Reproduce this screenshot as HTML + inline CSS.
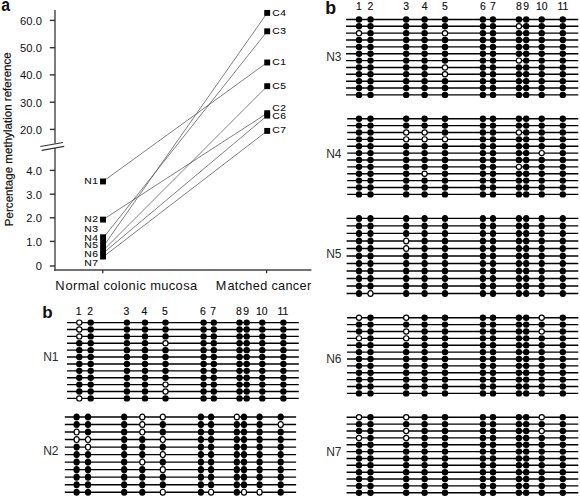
<!DOCTYPE html>
<html><head><meta charset="utf-8"><title>Figure</title>
<style>
html,body{margin:0;padding:0;background:#fff;}
body{width:580px;height:498px;overflow:hidden;}
svg{display:block;}
text{font-family:"Liberation Sans", sans-serif;fill:#111;}
text.g{fill:#2b2b2b;}
text.d{fill:#111;stroke:#111;stroke-width:0.15px;}
text.lab{letter-spacing:0.55px;stroke:#111;stroke-width:0.12px;}
</style></head>
<body>
<svg width="580" height="498" viewBox="0 0 580 498">
<rect x="0" y="0" width="580" height="498" fill="#fff"/>
<text transform="translate(1.3,10.9) scale(0.93,1.05)" font-size="17" font-weight="bold">a</text>
<line x1="55.0" y1="10" x2="55.0" y2="143.4" stroke="#444" stroke-width="1.4"/>
<line x1="55.0" y1="147.9" x2="55.0" y2="270.8" stroke="#444" stroke-width="1.4"/>
<line x1="40.3" y1="146.5" x2="63.1" y2="142.5" stroke="#333" stroke-width="1.1"/>
<line x1="41.7" y1="150.4" x2="64.2" y2="146.4" stroke="#333" stroke-width="1.1"/>
<line x1="49.8" y1="20.4" x2="55.0" y2="20.4" stroke="#333" stroke-width="1.4"/>
<text transform="translate(41.9,24.70) scale(1.12,1)" font-size="10" text-anchor="end">60.0</text>
<line x1="49.8" y1="47.7" x2="55.0" y2="47.7" stroke="#333" stroke-width="1.4"/>
<text transform="translate(41.9,52.00) scale(1.12,1)" font-size="10" text-anchor="end">50.0</text>
<line x1="49.8" y1="74.9" x2="55.0" y2="74.9" stroke="#333" stroke-width="1.4"/>
<text transform="translate(41.9,79.20) scale(1.12,1)" font-size="10" text-anchor="end">40.0</text>
<line x1="49.8" y1="102.2" x2="55.0" y2="102.2" stroke="#333" stroke-width="1.4"/>
<text transform="translate(41.9,106.50) scale(1.12,1)" font-size="10" text-anchor="end">30.0</text>
<line x1="49.8" y1="129.4" x2="55.0" y2="129.4" stroke="#333" stroke-width="1.4"/>
<text transform="translate(41.9,133.70) scale(1.12,1)" font-size="10" text-anchor="end">20.0</text>
<line x1="49.8" y1="170.4" x2="55.0" y2="170.4" stroke="#333" stroke-width="1.4"/>
<text transform="translate(41.9,174.70) scale(1.12,1)" font-size="10" text-anchor="end">4.0</text>
<line x1="49.8" y1="194.2" x2="55.0" y2="194.2" stroke="#333" stroke-width="1.4"/>
<text transform="translate(41.9,198.50) scale(1.12,1)" font-size="10" text-anchor="end">3.0</text>
<line x1="49.8" y1="217.8" x2="55.0" y2="217.8" stroke="#333" stroke-width="1.4"/>
<text transform="translate(41.9,222.10) scale(1.12,1)" font-size="10" text-anchor="end">2.0</text>
<line x1="49.8" y1="241.4" x2="55.0" y2="241.4" stroke="#333" stroke-width="1.4"/>
<text transform="translate(41.9,245.70) scale(1.12,1)" font-size="10" text-anchor="end">1.0</text>
<line x1="49.8" y1="266.0" x2="55.0" y2="266.0" stroke="#333" stroke-width="1.4"/>
<text transform="translate(41.9,270.30) scale(1.12,1)" font-size="10" text-anchor="end">0</text>
<line x1="54.2" y1="269.95" x2="311.4" y2="269.95" stroke="#444" stroke-width="1.5"/>
<line x1="102.8" y1="270" x2="102.8" y2="273.2" stroke="#333" stroke-width="1.3"/>
<line x1="266.6" y1="270" x2="266.6" y2="273.2" stroke="#333" stroke-width="1.3"/>
<text transform="translate(55.2,290.3) scale(1.075,1)" font-size="12" letter-spacing="0.35">N<tspan dx="0.5">ormal</tspan> colonic mucosa</text>
<text transform="translate(215.8,290.3) scale(1.06,1)" font-size="12" letter-spacing="0.3">M<tspan dx="0.7">atched</tspan> cancer</text>
<text transform="translate(13.1,226.2) rotate(-90.8)" x="0" y="0" font-size="11.6" stroke="#111" stroke-width="0.2">Percentage methylation reference</text>
<line x1="103.0" y1="181.45" x2="267.2" y2="62.5" stroke="#555" stroke-width="0.75"/>
<line x1="103.0" y1="219.6" x2="267.2" y2="113.2" stroke="#555" stroke-width="0.75"/>
<line x1="103.0" y1="238.2" x2="267.2" y2="31.3" stroke="#555" stroke-width="0.75"/>
<line x1="103.0" y1="246.9" x2="267.2" y2="12.9" stroke="#555" stroke-width="0.75"/>
<line x1="103.0" y1="250.6" x2="267.2" y2="86.2" stroke="#555" stroke-width="0.75"/>
<line x1="103.0" y1="253.3" x2="267.2" y2="115.6" stroke="#555" stroke-width="0.75"/>
<line x1="103.0" y1="257.0" x2="267.2" y2="130.9" stroke="#555" stroke-width="0.75"/>
<rect x="100.05" y="178.50" width="5.9" height="5.9" fill="#000"/>
<rect x="100.05" y="216.65" width="5.9" height="5.9" fill="#000"/>
<rect x="100.1" y="234.3" width="5.9" height="25.2" fill="#000"/>
<rect x="264.25" y="59.55" width="5.9" height="5.9" fill="#000"/>
<rect x="264.25" y="110.25" width="5.9" height="5.9" fill="#000"/>
<rect x="264.25" y="28.35" width="5.9" height="5.9" fill="#000"/>
<rect x="264.25" y="9.95" width="5.9" height="5.9" fill="#000"/>
<rect x="264.25" y="83.25" width="5.9" height="5.9" fill="#000"/>
<rect x="264.25" y="112.65" width="5.9" height="5.9" fill="#000"/>
<rect x="264.25" y="127.95" width="5.9" height="5.9" fill="#000"/>
<text transform="translate(98.6,184.1) scale(1.06,1)" font-size="9.75" text-anchor="end" class="lab">N1</text>
<text transform="translate(98.6,222.0) scale(1.06,1)" font-size="9.75" text-anchor="end" class="lab">N2</text>
<text transform="translate(98.6,232.4) scale(1.06,1)" font-size="9.75" text-anchor="end" class="lab">N3</text>
<text transform="translate(98.6,240.9) scale(1.06,1)" font-size="9.75" text-anchor="end" class="lab">N4</text>
<text transform="translate(98.6,248.2) scale(1.06,1)" font-size="9.75" text-anchor="end" class="lab">N5</text>
<text transform="translate(98.6,256.5) scale(1.06,1)" font-size="9.75" text-anchor="end" class="lab">N6</text>
<text transform="translate(98.6,265.6) scale(1.06,1)" font-size="9.75" text-anchor="end" class="lab">N7</text>
<text transform="translate(272.2,64.8) scale(1.06,1)" font-size="9.75" class="lab">C1</text>
<text transform="translate(272.2,110.6) scale(1.06,1)" font-size="9.75" class="lab">C2</text>
<text transform="translate(272.2,34.2) scale(1.06,1)" font-size="9.75" class="lab">C3</text>
<text transform="translate(272.2,15.5) scale(1.06,1)" font-size="9.75" class="lab">C4</text>
<text transform="translate(272.2,88.9) scale(1.06,1)" font-size="9.75" class="lab">C5</text>
<text transform="translate(272.2,119.1) scale(1.06,1)" font-size="9.75" class="lab">C6</text>
<text transform="translate(272.2,133.2) scale(1.06,1)" font-size="9.75" class="lab">C7</text>
<text x="325.3" y="13.7" font-size="17.8" font-weight="bold">b</text>
<text x="359.0" y="9.6" font-size="10.4" text-anchor="middle" class="d">1</text>
<text x="370.5" y="9.6" font-size="10.4" text-anchor="middle" class="d">2</text>
<text x="406.2" y="9.6" font-size="10.4" text-anchor="middle" class="d">3</text>
<text x="424.6" y="9.6" font-size="10.4" text-anchor="middle" class="d">4</text>
<text x="445.0" y="9.6" font-size="10.4" text-anchor="middle" class="d">5</text>
<text x="482.9" y="9.6" font-size="10.4" text-anchor="middle" class="d">6</text>
<text x="493.0" y="9.6" font-size="10.4" text-anchor="middle" class="d">7</text>
<text x="518.9" y="9.6" font-size="10.4" text-anchor="middle" class="d">8</text>
<text x="526.2" y="9.6" font-size="10.4" text-anchor="middle" class="d">9</text>
<text x="541.7" y="9.6" font-size="10.4" text-anchor="middle" class="d">10</text>
<text x="562.8" y="9.6" font-size="10.4" text-anchor="middle" class="d">11</text>
<line x1="346.0" y1="19.44" x2="578.3" y2="19.44" stroke="#000" stroke-width="1.4"/>
<line x1="346.0" y1="26.30" x2="578.3" y2="26.30" stroke="#000" stroke-width="1.4"/>
<line x1="346.0" y1="33.16" x2="578.3" y2="33.16" stroke="#000" stroke-width="1.4"/>
<line x1="346.0" y1="40.02" x2="578.3" y2="40.02" stroke="#000" stroke-width="1.4"/>
<line x1="346.0" y1="46.88" x2="578.3" y2="46.88" stroke="#000" stroke-width="1.4"/>
<line x1="346.0" y1="53.74" x2="578.3" y2="53.74" stroke="#000" stroke-width="1.4"/>
<line x1="346.0" y1="60.60" x2="578.3" y2="60.60" stroke="#000" stroke-width="1.4"/>
<line x1="346.0" y1="67.46" x2="578.3" y2="67.46" stroke="#000" stroke-width="1.4"/>
<line x1="346.0" y1="74.32" x2="578.3" y2="74.32" stroke="#000" stroke-width="1.4"/>
<line x1="346.0" y1="81.18" x2="578.3" y2="81.18" stroke="#000" stroke-width="1.4"/>
<line x1="346.0" y1="88.04" x2="578.3" y2="88.04" stroke="#000" stroke-width="1.4"/>
<line x1="346.0" y1="94.90" x2="578.3" y2="94.90" stroke="#000" stroke-width="1.4"/>
<ellipse cx="359.0" cy="19.44" rx="3.2" ry="3.2" fill="#000"/>
<ellipse cx="359.0" cy="26.30" rx="3.2" ry="3.2" fill="#000"/>
<ellipse cx="359.0" cy="33.16" rx="2.60" ry="2.60" fill="#fff" stroke="#000" stroke-width="1.2"/>
<ellipse cx="359.0" cy="40.02" rx="3.2" ry="3.2" fill="#000"/>
<ellipse cx="359.0" cy="46.88" rx="3.2" ry="3.2" fill="#000"/>
<ellipse cx="359.0" cy="53.74" rx="3.2" ry="3.2" fill="#000"/>
<ellipse cx="359.0" cy="60.60" rx="3.2" ry="3.2" fill="#000"/>
<ellipse cx="359.0" cy="67.46" rx="3.2" ry="3.2" fill="#000"/>
<ellipse cx="359.0" cy="74.32" rx="3.2" ry="3.2" fill="#000"/>
<ellipse cx="359.0" cy="81.18" rx="3.2" ry="3.2" fill="#000"/>
<ellipse cx="359.0" cy="88.04" rx="3.2" ry="3.2" fill="#000"/>
<ellipse cx="359.0" cy="94.90" rx="3.2" ry="3.2" fill="#000"/>
<ellipse cx="370.5" cy="19.44" rx="3.2" ry="3.2" fill="#000"/>
<ellipse cx="370.5" cy="26.30" rx="3.2" ry="3.2" fill="#000"/>
<ellipse cx="370.5" cy="33.16" rx="3.2" ry="3.2" fill="#000"/>
<ellipse cx="370.5" cy="40.02" rx="3.2" ry="3.2" fill="#000"/>
<ellipse cx="370.5" cy="46.88" rx="3.2" ry="3.2" fill="#000"/>
<ellipse cx="370.5" cy="53.74" rx="3.2" ry="3.2" fill="#000"/>
<ellipse cx="370.5" cy="60.60" rx="3.2" ry="3.2" fill="#000"/>
<ellipse cx="370.5" cy="67.46" rx="3.2" ry="3.2" fill="#000"/>
<ellipse cx="370.5" cy="74.32" rx="3.2" ry="3.2" fill="#000"/>
<ellipse cx="370.5" cy="81.18" rx="3.2" ry="3.2" fill="#000"/>
<ellipse cx="370.5" cy="88.04" rx="3.2" ry="3.2" fill="#000"/>
<ellipse cx="370.5" cy="94.90" rx="3.2" ry="3.2" fill="#000"/>
<ellipse cx="406.2" cy="19.44" rx="3.2" ry="3.2" fill="#000"/>
<ellipse cx="406.2" cy="26.30" rx="3.2" ry="3.2" fill="#000"/>
<ellipse cx="406.2" cy="33.16" rx="3.2" ry="3.2" fill="#000"/>
<ellipse cx="406.2" cy="40.02" rx="3.2" ry="3.2" fill="#000"/>
<ellipse cx="406.2" cy="46.88" rx="3.2" ry="3.2" fill="#000"/>
<ellipse cx="406.2" cy="53.74" rx="3.2" ry="3.2" fill="#000"/>
<ellipse cx="406.2" cy="60.60" rx="3.2" ry="3.2" fill="#000"/>
<ellipse cx="406.2" cy="67.46" rx="3.2" ry="3.2" fill="#000"/>
<ellipse cx="406.2" cy="74.32" rx="3.2" ry="3.2" fill="#000"/>
<ellipse cx="406.2" cy="81.18" rx="3.2" ry="3.2" fill="#000"/>
<ellipse cx="406.2" cy="88.04" rx="3.2" ry="3.2" fill="#000"/>
<ellipse cx="406.2" cy="94.90" rx="3.2" ry="3.2" fill="#000"/>
<ellipse cx="424.6" cy="19.44" rx="3.2" ry="3.2" fill="#000"/>
<ellipse cx="424.6" cy="26.30" rx="3.2" ry="3.2" fill="#000"/>
<ellipse cx="424.6" cy="33.16" rx="3.2" ry="3.2" fill="#000"/>
<ellipse cx="424.6" cy="40.02" rx="3.2" ry="3.2" fill="#000"/>
<ellipse cx="424.6" cy="46.88" rx="3.2" ry="3.2" fill="#000"/>
<ellipse cx="424.6" cy="53.74" rx="3.2" ry="3.2" fill="#000"/>
<ellipse cx="424.6" cy="60.60" rx="3.2" ry="3.2" fill="#000"/>
<ellipse cx="424.6" cy="67.46" rx="3.2" ry="3.2" fill="#000"/>
<ellipse cx="424.6" cy="74.32" rx="3.2" ry="3.2" fill="#000"/>
<ellipse cx="424.6" cy="81.18" rx="3.2" ry="3.2" fill="#000"/>
<ellipse cx="424.6" cy="88.04" rx="3.2" ry="3.2" fill="#000"/>
<ellipse cx="424.6" cy="94.90" rx="3.2" ry="3.2" fill="#000"/>
<ellipse cx="445.0" cy="19.44" rx="3.2" ry="3.2" fill="#000"/>
<ellipse cx="445.0" cy="26.30" rx="3.2" ry="3.2" fill="#000"/>
<ellipse cx="445.0" cy="33.16" rx="2.60" ry="2.60" fill="#fff" stroke="#000" stroke-width="1.2"/>
<ellipse cx="445.0" cy="40.02" rx="3.2" ry="3.2" fill="#000"/>
<ellipse cx="445.0" cy="46.88" rx="3.2" ry="3.2" fill="#000"/>
<ellipse cx="445.0" cy="53.74" rx="3.2" ry="3.2" fill="#000"/>
<ellipse cx="445.0" cy="60.60" rx="3.2" ry="3.2" fill="#000"/>
<ellipse cx="445.0" cy="67.46" rx="2.60" ry="2.60" fill="#fff" stroke="#000" stroke-width="1.2"/>
<ellipse cx="445.0" cy="74.32" rx="2.60" ry="2.60" fill="#fff" stroke="#000" stroke-width="1.2"/>
<ellipse cx="445.0" cy="81.18" rx="3.2" ry="3.2" fill="#000"/>
<ellipse cx="445.0" cy="88.04" rx="3.2" ry="3.2" fill="#000"/>
<ellipse cx="445.0" cy="94.90" rx="3.2" ry="3.2" fill="#000"/>
<ellipse cx="482.9" cy="19.44" rx="3.2" ry="3.2" fill="#000"/>
<ellipse cx="482.9" cy="26.30" rx="3.2" ry="3.2" fill="#000"/>
<ellipse cx="482.9" cy="33.16" rx="3.2" ry="3.2" fill="#000"/>
<ellipse cx="482.9" cy="40.02" rx="3.2" ry="3.2" fill="#000"/>
<ellipse cx="482.9" cy="46.88" rx="3.2" ry="3.2" fill="#000"/>
<ellipse cx="482.9" cy="53.74" rx="3.2" ry="3.2" fill="#000"/>
<ellipse cx="482.9" cy="60.60" rx="3.2" ry="3.2" fill="#000"/>
<ellipse cx="482.9" cy="67.46" rx="3.2" ry="3.2" fill="#000"/>
<ellipse cx="482.9" cy="74.32" rx="3.2" ry="3.2" fill="#000"/>
<ellipse cx="482.9" cy="81.18" rx="3.2" ry="3.2" fill="#000"/>
<ellipse cx="482.9" cy="88.04" rx="3.2" ry="3.2" fill="#000"/>
<ellipse cx="482.9" cy="94.90" rx="3.2" ry="3.2" fill="#000"/>
<ellipse cx="493.0" cy="19.44" rx="3.2" ry="3.2" fill="#000"/>
<ellipse cx="493.0" cy="26.30" rx="3.2" ry="3.2" fill="#000"/>
<ellipse cx="493.0" cy="33.16" rx="3.2" ry="3.2" fill="#000"/>
<ellipse cx="493.0" cy="40.02" rx="3.2" ry="3.2" fill="#000"/>
<ellipse cx="493.0" cy="46.88" rx="3.2" ry="3.2" fill="#000"/>
<ellipse cx="493.0" cy="53.74" rx="3.2" ry="3.2" fill="#000"/>
<ellipse cx="493.0" cy="60.60" rx="3.2" ry="3.2" fill="#000"/>
<ellipse cx="493.0" cy="67.46" rx="3.2" ry="3.2" fill="#000"/>
<ellipse cx="493.0" cy="74.32" rx="3.2" ry="3.2" fill="#000"/>
<ellipse cx="493.0" cy="81.18" rx="3.2" ry="3.2" fill="#000"/>
<ellipse cx="493.0" cy="88.04" rx="3.2" ry="3.2" fill="#000"/>
<ellipse cx="493.0" cy="94.90" rx="3.2" ry="3.2" fill="#000"/>
<ellipse cx="518.9" cy="19.44" rx="3.2" ry="3.2" fill="#000"/>
<ellipse cx="518.9" cy="26.30" rx="2.60" ry="2.60" fill="#fff" stroke="#000" stroke-width="1.2"/>
<ellipse cx="518.9" cy="33.16" rx="3.2" ry="3.2" fill="#000"/>
<ellipse cx="518.9" cy="40.02" rx="3.2" ry="3.2" fill="#000"/>
<ellipse cx="518.9" cy="46.88" rx="3.2" ry="3.2" fill="#000"/>
<ellipse cx="518.9" cy="53.74" rx="3.2" ry="3.2" fill="#000"/>
<ellipse cx="518.9" cy="60.60" rx="2.60" ry="2.60" fill="#fff" stroke="#000" stroke-width="1.2"/>
<ellipse cx="518.9" cy="67.46" rx="3.2" ry="3.2" fill="#000"/>
<ellipse cx="518.9" cy="74.32" rx="3.2" ry="3.2" fill="#000"/>
<ellipse cx="518.9" cy="81.18" rx="3.2" ry="3.2" fill="#000"/>
<ellipse cx="518.9" cy="88.04" rx="3.2" ry="3.2" fill="#000"/>
<ellipse cx="518.9" cy="94.90" rx="3.2" ry="3.2" fill="#000"/>
<ellipse cx="526.2" cy="19.44" rx="3.2" ry="3.2" fill="#000"/>
<ellipse cx="526.2" cy="26.30" rx="3.2" ry="3.2" fill="#000"/>
<ellipse cx="526.2" cy="33.16" rx="3.2" ry="3.2" fill="#000"/>
<ellipse cx="526.2" cy="40.02" rx="3.2" ry="3.2" fill="#000"/>
<ellipse cx="526.2" cy="46.88" rx="3.2" ry="3.2" fill="#000"/>
<ellipse cx="526.2" cy="53.74" rx="3.2" ry="3.2" fill="#000"/>
<ellipse cx="526.2" cy="60.60" rx="3.2" ry="3.2" fill="#000"/>
<ellipse cx="526.2" cy="67.46" rx="3.2" ry="3.2" fill="#000"/>
<ellipse cx="526.2" cy="74.32" rx="3.2" ry="3.2" fill="#000"/>
<ellipse cx="526.2" cy="81.18" rx="3.2" ry="3.2" fill="#000"/>
<ellipse cx="526.2" cy="88.04" rx="3.2" ry="3.2" fill="#000"/>
<ellipse cx="526.2" cy="94.90" rx="3.2" ry="3.2" fill="#000"/>
<ellipse cx="541.7" cy="19.44" rx="3.2" ry="3.2" fill="#000"/>
<ellipse cx="541.7" cy="26.30" rx="3.2" ry="3.2" fill="#000"/>
<ellipse cx="541.7" cy="33.16" rx="3.2" ry="3.2" fill="#000"/>
<ellipse cx="541.7" cy="40.02" rx="3.2" ry="3.2" fill="#000"/>
<ellipse cx="541.7" cy="46.88" rx="3.2" ry="3.2" fill="#000"/>
<ellipse cx="541.7" cy="53.74" rx="3.2" ry="3.2" fill="#000"/>
<ellipse cx="541.7" cy="60.60" rx="3.2" ry="3.2" fill="#000"/>
<ellipse cx="541.7" cy="67.46" rx="3.2" ry="3.2" fill="#000"/>
<ellipse cx="541.7" cy="74.32" rx="3.2" ry="3.2" fill="#000"/>
<ellipse cx="541.7" cy="81.18" rx="3.2" ry="3.2" fill="#000"/>
<ellipse cx="541.7" cy="88.04" rx="3.2" ry="3.2" fill="#000"/>
<ellipse cx="541.7" cy="94.90" rx="3.2" ry="3.2" fill="#000"/>
<ellipse cx="562.8" cy="19.44" rx="3.2" ry="3.2" fill="#000"/>
<ellipse cx="562.8" cy="26.30" rx="3.2" ry="3.2" fill="#000"/>
<ellipse cx="562.8" cy="33.16" rx="3.2" ry="3.2" fill="#000"/>
<ellipse cx="562.8" cy="40.02" rx="3.2" ry="3.2" fill="#000"/>
<ellipse cx="562.8" cy="46.88" rx="3.2" ry="3.2" fill="#000"/>
<ellipse cx="562.8" cy="53.74" rx="3.2" ry="3.2" fill="#000"/>
<ellipse cx="562.8" cy="60.60" rx="3.2" ry="3.2" fill="#000"/>
<ellipse cx="562.8" cy="67.46" rx="3.2" ry="3.2" fill="#000"/>
<ellipse cx="562.8" cy="74.32" rx="3.2" ry="3.2" fill="#000"/>
<ellipse cx="562.8" cy="81.18" rx="3.2" ry="3.2" fill="#000"/>
<ellipse cx="562.8" cy="88.04" rx="3.2" ry="3.2" fill="#000"/>
<ellipse cx="562.8" cy="94.90" rx="3.2" ry="3.2" fill="#000"/>
<line x1="347.2" y1="118.70" x2="578.3" y2="118.70" stroke="#000" stroke-width="1.4"/>
<line x1="347.2" y1="125.58" x2="578.3" y2="125.58" stroke="#000" stroke-width="1.4"/>
<line x1="347.2" y1="132.46" x2="578.3" y2="132.46" stroke="#000" stroke-width="1.4"/>
<line x1="347.2" y1="139.34" x2="578.3" y2="139.34" stroke="#000" stroke-width="1.4"/>
<line x1="347.2" y1="146.22" x2="578.3" y2="146.22" stroke="#000" stroke-width="1.4"/>
<line x1="347.2" y1="153.10" x2="578.3" y2="153.10" stroke="#000" stroke-width="1.4"/>
<line x1="347.2" y1="159.98" x2="578.3" y2="159.98" stroke="#000" stroke-width="1.4"/>
<line x1="347.2" y1="166.86" x2="578.3" y2="166.86" stroke="#000" stroke-width="1.4"/>
<line x1="347.2" y1="173.74" x2="578.3" y2="173.74" stroke="#000" stroke-width="1.4"/>
<line x1="347.2" y1="180.62" x2="578.3" y2="180.62" stroke="#000" stroke-width="1.4"/>
<line x1="347.2" y1="187.50" x2="578.3" y2="187.50" stroke="#000" stroke-width="1.4"/>
<line x1="347.2" y1="194.38" x2="578.3" y2="194.38" stroke="#000" stroke-width="1.4"/>
<ellipse cx="359.0" cy="118.70" rx="3.2" ry="3.2" fill="#000"/>
<ellipse cx="359.0" cy="125.58" rx="3.2" ry="3.2" fill="#000"/>
<ellipse cx="359.0" cy="132.46" rx="3.2" ry="3.2" fill="#000"/>
<ellipse cx="359.0" cy="139.34" rx="3.2" ry="3.2" fill="#000"/>
<ellipse cx="359.0" cy="146.22" rx="3.2" ry="3.2" fill="#000"/>
<ellipse cx="359.0" cy="153.10" rx="3.2" ry="3.2" fill="#000"/>
<ellipse cx="359.0" cy="159.98" rx="3.2" ry="3.2" fill="#000"/>
<ellipse cx="359.0" cy="166.86" rx="3.2" ry="3.2" fill="#000"/>
<ellipse cx="359.0" cy="173.74" rx="3.2" ry="3.2" fill="#000"/>
<ellipse cx="359.0" cy="180.62" rx="3.2" ry="3.2" fill="#000"/>
<ellipse cx="359.0" cy="187.50" rx="3.2" ry="3.2" fill="#000"/>
<ellipse cx="359.0" cy="194.38" rx="3.2" ry="3.2" fill="#000"/>
<ellipse cx="370.5" cy="118.70" rx="3.2" ry="3.2" fill="#000"/>
<ellipse cx="370.5" cy="125.58" rx="3.2" ry="3.2" fill="#000"/>
<ellipse cx="370.5" cy="132.46" rx="3.2" ry="3.2" fill="#000"/>
<ellipse cx="370.5" cy="139.34" rx="3.2" ry="3.2" fill="#000"/>
<ellipse cx="370.5" cy="146.22" rx="3.2" ry="3.2" fill="#000"/>
<ellipse cx="370.5" cy="153.10" rx="3.2" ry="3.2" fill="#000"/>
<ellipse cx="370.5" cy="159.98" rx="3.2" ry="3.2" fill="#000"/>
<ellipse cx="370.5" cy="166.86" rx="3.2" ry="3.2" fill="#000"/>
<ellipse cx="370.5" cy="173.74" rx="3.2" ry="3.2" fill="#000"/>
<ellipse cx="370.5" cy="180.62" rx="3.2" ry="3.2" fill="#000"/>
<ellipse cx="370.5" cy="187.50" rx="3.2" ry="3.2" fill="#000"/>
<ellipse cx="370.5" cy="194.38" rx="3.2" ry="3.2" fill="#000"/>
<ellipse cx="406.2" cy="118.70" rx="3.2" ry="3.2" fill="#000"/>
<ellipse cx="406.2" cy="125.58" rx="3.2" ry="3.2" fill="#000"/>
<ellipse cx="406.2" cy="132.46" rx="2.60" ry="2.60" fill="#fff" stroke="#000" stroke-width="1.2"/>
<ellipse cx="406.2" cy="139.34" rx="2.60" ry="2.60" fill="#fff" stroke="#000" stroke-width="1.2"/>
<ellipse cx="406.2" cy="146.22" rx="3.2" ry="3.2" fill="#000"/>
<ellipse cx="406.2" cy="153.10" rx="3.2" ry="3.2" fill="#000"/>
<ellipse cx="406.2" cy="159.98" rx="3.2" ry="3.2" fill="#000"/>
<ellipse cx="406.2" cy="166.86" rx="3.2" ry="3.2" fill="#000"/>
<ellipse cx="406.2" cy="173.74" rx="3.2" ry="3.2" fill="#000"/>
<ellipse cx="406.2" cy="180.62" rx="3.2" ry="3.2" fill="#000"/>
<ellipse cx="406.2" cy="187.50" rx="3.2" ry="3.2" fill="#000"/>
<ellipse cx="406.2" cy="194.38" rx="3.2" ry="3.2" fill="#000"/>
<ellipse cx="424.6" cy="118.70" rx="3.2" ry="3.2" fill="#000"/>
<ellipse cx="424.6" cy="125.58" rx="3.2" ry="3.2" fill="#000"/>
<ellipse cx="424.6" cy="132.46" rx="2.60" ry="2.60" fill="#fff" stroke="#000" stroke-width="1.2"/>
<ellipse cx="424.6" cy="139.34" rx="2.60" ry="2.60" fill="#fff" stroke="#000" stroke-width="1.2"/>
<ellipse cx="424.6" cy="146.22" rx="3.2" ry="3.2" fill="#000"/>
<ellipse cx="424.6" cy="153.10" rx="3.2" ry="3.2" fill="#000"/>
<ellipse cx="424.6" cy="159.98" rx="3.2" ry="3.2" fill="#000"/>
<ellipse cx="424.6" cy="166.86" rx="3.2" ry="3.2" fill="#000"/>
<ellipse cx="424.6" cy="173.74" rx="2.60" ry="2.60" fill="#fff" stroke="#000" stroke-width="1.2"/>
<ellipse cx="424.6" cy="180.62" rx="3.2" ry="3.2" fill="#000"/>
<ellipse cx="424.6" cy="187.50" rx="3.2" ry="3.2" fill="#000"/>
<ellipse cx="424.6" cy="194.38" rx="3.2" ry="3.2" fill="#000"/>
<ellipse cx="445.0" cy="118.70" rx="3.2" ry="3.2" fill="#000"/>
<ellipse cx="445.0" cy="125.58" rx="3.2" ry="3.2" fill="#000"/>
<ellipse cx="445.0" cy="132.46" rx="3.2" ry="3.2" fill="#000"/>
<ellipse cx="445.0" cy="139.34" rx="2.60" ry="2.60" fill="#fff" stroke="#000" stroke-width="1.2"/>
<ellipse cx="445.0" cy="146.22" rx="3.2" ry="3.2" fill="#000"/>
<ellipse cx="445.0" cy="153.10" rx="3.2" ry="3.2" fill="#000"/>
<ellipse cx="445.0" cy="159.98" rx="3.2" ry="3.2" fill="#000"/>
<ellipse cx="445.0" cy="166.86" rx="3.2" ry="3.2" fill="#000"/>
<ellipse cx="445.0" cy="173.74" rx="3.2" ry="3.2" fill="#000"/>
<ellipse cx="445.0" cy="180.62" rx="3.2" ry="3.2" fill="#000"/>
<ellipse cx="445.0" cy="187.50" rx="3.2" ry="3.2" fill="#000"/>
<ellipse cx="445.0" cy="194.38" rx="3.2" ry="3.2" fill="#000"/>
<ellipse cx="482.9" cy="118.70" rx="3.2" ry="3.2" fill="#000"/>
<ellipse cx="482.9" cy="125.58" rx="3.2" ry="3.2" fill="#000"/>
<ellipse cx="482.9" cy="132.46" rx="3.2" ry="3.2" fill="#000"/>
<ellipse cx="482.9" cy="139.34" rx="3.2" ry="3.2" fill="#000"/>
<ellipse cx="482.9" cy="146.22" rx="3.2" ry="3.2" fill="#000"/>
<ellipse cx="482.9" cy="153.10" rx="3.2" ry="3.2" fill="#000"/>
<ellipse cx="482.9" cy="159.98" rx="3.2" ry="3.2" fill="#000"/>
<ellipse cx="482.9" cy="166.86" rx="3.2" ry="3.2" fill="#000"/>
<ellipse cx="482.9" cy="173.74" rx="3.2" ry="3.2" fill="#000"/>
<ellipse cx="482.9" cy="180.62" rx="3.2" ry="3.2" fill="#000"/>
<ellipse cx="482.9" cy="187.50" rx="3.2" ry="3.2" fill="#000"/>
<ellipse cx="482.9" cy="194.38" rx="3.2" ry="3.2" fill="#000"/>
<ellipse cx="493.0" cy="118.70" rx="3.2" ry="3.2" fill="#000"/>
<ellipse cx="493.0" cy="125.58" rx="3.2" ry="3.2" fill="#000"/>
<ellipse cx="493.0" cy="132.46" rx="3.2" ry="3.2" fill="#000"/>
<ellipse cx="493.0" cy="139.34" rx="3.2" ry="3.2" fill="#000"/>
<ellipse cx="493.0" cy="146.22" rx="3.2" ry="3.2" fill="#000"/>
<ellipse cx="493.0" cy="153.10" rx="3.2" ry="3.2" fill="#000"/>
<ellipse cx="493.0" cy="159.98" rx="3.2" ry="3.2" fill="#000"/>
<ellipse cx="493.0" cy="166.86" rx="3.2" ry="3.2" fill="#000"/>
<ellipse cx="493.0" cy="173.74" rx="3.2" ry="3.2" fill="#000"/>
<ellipse cx="493.0" cy="180.62" rx="3.2" ry="3.2" fill="#000"/>
<ellipse cx="493.0" cy="187.50" rx="3.2" ry="3.2" fill="#000"/>
<ellipse cx="493.0" cy="194.38" rx="3.2" ry="3.2" fill="#000"/>
<ellipse cx="518.9" cy="118.70" rx="3.2" ry="3.2" fill="#000"/>
<ellipse cx="518.9" cy="125.58" rx="3.2" ry="3.2" fill="#000"/>
<ellipse cx="518.9" cy="132.46" rx="2.60" ry="2.60" fill="#fff" stroke="#000" stroke-width="1.2"/>
<ellipse cx="518.9" cy="139.34" rx="3.2" ry="3.2" fill="#000"/>
<ellipse cx="518.9" cy="146.22" rx="3.2" ry="3.2" fill="#000"/>
<ellipse cx="518.9" cy="153.10" rx="3.2" ry="3.2" fill="#000"/>
<ellipse cx="518.9" cy="159.98" rx="3.2" ry="3.2" fill="#000"/>
<ellipse cx="518.9" cy="166.86" rx="2.60" ry="2.60" fill="#fff" stroke="#000" stroke-width="1.2"/>
<ellipse cx="518.9" cy="173.74" rx="3.2" ry="3.2" fill="#000"/>
<ellipse cx="518.9" cy="180.62" rx="3.2" ry="3.2" fill="#000"/>
<ellipse cx="518.9" cy="187.50" rx="3.2" ry="3.2" fill="#000"/>
<ellipse cx="518.9" cy="194.38" rx="3.2" ry="3.2" fill="#000"/>
<ellipse cx="526.2" cy="118.70" rx="3.2" ry="3.2" fill="#000"/>
<ellipse cx="526.2" cy="125.58" rx="3.2" ry="3.2" fill="#000"/>
<ellipse cx="526.2" cy="132.46" rx="3.2" ry="3.2" fill="#000"/>
<ellipse cx="526.2" cy="139.34" rx="3.2" ry="3.2" fill="#000"/>
<ellipse cx="526.2" cy="146.22" rx="3.2" ry="3.2" fill="#000"/>
<ellipse cx="526.2" cy="153.10" rx="3.2" ry="3.2" fill="#000"/>
<ellipse cx="526.2" cy="159.98" rx="3.2" ry="3.2" fill="#000"/>
<ellipse cx="526.2" cy="166.86" rx="3.2" ry="3.2" fill="#000"/>
<ellipse cx="526.2" cy="173.74" rx="3.2" ry="3.2" fill="#000"/>
<ellipse cx="526.2" cy="180.62" rx="3.2" ry="3.2" fill="#000"/>
<ellipse cx="526.2" cy="187.50" rx="3.2" ry="3.2" fill="#000"/>
<ellipse cx="526.2" cy="194.38" rx="3.2" ry="3.2" fill="#000"/>
<ellipse cx="541.7" cy="118.70" rx="3.2" ry="3.2" fill="#000"/>
<ellipse cx="541.7" cy="125.58" rx="3.2" ry="3.2" fill="#000"/>
<ellipse cx="541.7" cy="132.46" rx="3.2" ry="3.2" fill="#000"/>
<ellipse cx="541.7" cy="139.34" rx="3.2" ry="3.2" fill="#000"/>
<ellipse cx="541.7" cy="146.22" rx="3.2" ry="3.2" fill="#000"/>
<ellipse cx="541.7" cy="153.10" rx="2.60" ry="2.60" fill="#fff" stroke="#000" stroke-width="1.2"/>
<ellipse cx="541.7" cy="159.98" rx="3.2" ry="3.2" fill="#000"/>
<ellipse cx="541.7" cy="166.86" rx="3.2" ry="3.2" fill="#000"/>
<ellipse cx="541.7" cy="173.74" rx="3.2" ry="3.2" fill="#000"/>
<ellipse cx="541.7" cy="180.62" rx="3.2" ry="3.2" fill="#000"/>
<ellipse cx="541.7" cy="187.50" rx="3.2" ry="3.2" fill="#000"/>
<ellipse cx="541.7" cy="194.38" rx="3.2" ry="3.2" fill="#000"/>
<ellipse cx="562.8" cy="118.70" rx="3.2" ry="3.2" fill="#000"/>
<ellipse cx="562.8" cy="125.58" rx="3.2" ry="3.2" fill="#000"/>
<ellipse cx="562.8" cy="132.46" rx="3.2" ry="3.2" fill="#000"/>
<ellipse cx="562.8" cy="139.34" rx="3.2" ry="3.2" fill="#000"/>
<ellipse cx="562.8" cy="146.22" rx="3.2" ry="3.2" fill="#000"/>
<ellipse cx="562.8" cy="153.10" rx="3.2" ry="3.2" fill="#000"/>
<ellipse cx="562.8" cy="159.98" rx="3.2" ry="3.2" fill="#000"/>
<ellipse cx="562.8" cy="166.86" rx="3.2" ry="3.2" fill="#000"/>
<ellipse cx="562.8" cy="173.74" rx="3.2" ry="3.2" fill="#000"/>
<ellipse cx="562.8" cy="180.62" rx="3.2" ry="3.2" fill="#000"/>
<ellipse cx="562.8" cy="187.50" rx="3.2" ry="3.2" fill="#000"/>
<ellipse cx="562.8" cy="194.38" rx="3.2" ry="3.2" fill="#000"/>
<line x1="346.6" y1="218.40" x2="578.3" y2="218.40" stroke="#000" stroke-width="1.4"/>
<line x1="346.6" y1="225.91" x2="578.3" y2="225.91" stroke="#000" stroke-width="1.4"/>
<line x1="346.6" y1="233.42" x2="578.3" y2="233.42" stroke="#000" stroke-width="1.4"/>
<line x1="346.6" y1="240.93" x2="578.3" y2="240.93" stroke="#000" stroke-width="1.4"/>
<line x1="346.6" y1="248.44" x2="578.3" y2="248.44" stroke="#000" stroke-width="1.4"/>
<line x1="346.6" y1="255.95" x2="578.3" y2="255.95" stroke="#000" stroke-width="1.4"/>
<line x1="346.6" y1="263.46" x2="578.3" y2="263.46" stroke="#000" stroke-width="1.4"/>
<line x1="346.6" y1="270.97" x2="578.3" y2="270.97" stroke="#000" stroke-width="1.4"/>
<line x1="346.6" y1="278.48" x2="578.3" y2="278.48" stroke="#000" stroke-width="1.4"/>
<line x1="346.6" y1="285.99" x2="578.3" y2="285.99" stroke="#000" stroke-width="1.4"/>
<line x1="346.6" y1="293.50" x2="578.3" y2="293.50" stroke="#000" stroke-width="1.4"/>
<ellipse cx="359.0" cy="218.40" rx="3.15" ry="3.5" fill="#000"/>
<ellipse cx="359.0" cy="225.91" rx="3.15" ry="3.5" fill="#000"/>
<ellipse cx="359.0" cy="233.42" rx="3.15" ry="3.5" fill="#000"/>
<ellipse cx="359.0" cy="240.93" rx="3.15" ry="3.5" fill="#000"/>
<ellipse cx="359.0" cy="248.44" rx="3.15" ry="3.5" fill="#000"/>
<ellipse cx="359.0" cy="255.95" rx="3.15" ry="3.5" fill="#000"/>
<ellipse cx="359.0" cy="263.46" rx="3.15" ry="3.5" fill="#000"/>
<ellipse cx="359.0" cy="270.97" rx="3.15" ry="3.5" fill="#000"/>
<ellipse cx="359.0" cy="278.48" rx="3.15" ry="3.5" fill="#000"/>
<ellipse cx="359.0" cy="285.99" rx="3.15" ry="3.5" fill="#000"/>
<ellipse cx="359.0" cy="293.50" rx="3.15" ry="3.5" fill="#000"/>
<ellipse cx="370.5" cy="218.40" rx="3.15" ry="3.5" fill="#000"/>
<ellipse cx="370.5" cy="225.91" rx="3.15" ry="3.5" fill="#000"/>
<ellipse cx="370.5" cy="233.42" rx="3.15" ry="3.5" fill="#000"/>
<ellipse cx="370.5" cy="240.93" rx="3.15" ry="3.5" fill="#000"/>
<ellipse cx="370.5" cy="248.44" rx="3.15" ry="3.5" fill="#000"/>
<ellipse cx="370.5" cy="255.95" rx="3.15" ry="3.5" fill="#000"/>
<ellipse cx="370.5" cy="263.46" rx="3.15" ry="3.5" fill="#000"/>
<ellipse cx="370.5" cy="270.97" rx="3.15" ry="3.5" fill="#000"/>
<ellipse cx="370.5" cy="278.48" rx="3.15" ry="3.5" fill="#000"/>
<ellipse cx="370.5" cy="285.99" rx="3.15" ry="3.5" fill="#000"/>
<ellipse cx="370.5" cy="293.50" rx="2.55" ry="2.90" fill="#fff" stroke="#000" stroke-width="1.2"/>
<ellipse cx="406.2" cy="218.40" rx="3.15" ry="3.5" fill="#000"/>
<ellipse cx="406.2" cy="225.91" rx="3.15" ry="3.5" fill="#000"/>
<ellipse cx="406.2" cy="233.42" rx="3.15" ry="3.5" fill="#000"/>
<ellipse cx="406.2" cy="240.93" rx="2.55" ry="2.90" fill="#fff" stroke="#000" stroke-width="1.2"/>
<ellipse cx="406.2" cy="248.44" rx="2.55" ry="2.90" fill="#fff" stroke="#000" stroke-width="1.2"/>
<ellipse cx="406.2" cy="255.95" rx="3.15" ry="3.5" fill="#000"/>
<ellipse cx="406.2" cy="263.46" rx="3.15" ry="3.5" fill="#000"/>
<ellipse cx="406.2" cy="270.97" rx="3.15" ry="3.5" fill="#000"/>
<ellipse cx="406.2" cy="278.48" rx="3.15" ry="3.5" fill="#000"/>
<ellipse cx="406.2" cy="285.99" rx="3.15" ry="3.5" fill="#000"/>
<ellipse cx="406.2" cy="293.50" rx="3.15" ry="3.5" fill="#000"/>
<ellipse cx="424.6" cy="218.40" rx="3.15" ry="3.5" fill="#000"/>
<ellipse cx="424.6" cy="225.91" rx="3.15" ry="3.5" fill="#000"/>
<ellipse cx="424.6" cy="233.42" rx="3.15" ry="3.5" fill="#000"/>
<ellipse cx="424.6" cy="240.93" rx="3.15" ry="3.5" fill="#000"/>
<ellipse cx="424.6" cy="248.44" rx="3.15" ry="3.5" fill="#000"/>
<ellipse cx="424.6" cy="255.95" rx="3.15" ry="3.5" fill="#000"/>
<ellipse cx="424.6" cy="263.46" rx="3.15" ry="3.5" fill="#000"/>
<ellipse cx="424.6" cy="270.97" rx="3.15" ry="3.5" fill="#000"/>
<ellipse cx="424.6" cy="278.48" rx="3.15" ry="3.5" fill="#000"/>
<ellipse cx="424.6" cy="285.99" rx="3.15" ry="3.5" fill="#000"/>
<ellipse cx="424.6" cy="293.50" rx="3.15" ry="3.5" fill="#000"/>
<ellipse cx="445.0" cy="218.40" rx="3.15" ry="3.5" fill="#000"/>
<ellipse cx="445.0" cy="225.91" rx="3.15" ry="3.5" fill="#000"/>
<ellipse cx="445.0" cy="233.42" rx="3.15" ry="3.5" fill="#000"/>
<ellipse cx="445.0" cy="240.93" rx="3.15" ry="3.5" fill="#000"/>
<ellipse cx="445.0" cy="248.44" rx="3.15" ry="3.5" fill="#000"/>
<ellipse cx="445.0" cy="255.95" rx="3.15" ry="3.5" fill="#000"/>
<ellipse cx="445.0" cy="263.46" rx="3.15" ry="3.5" fill="#000"/>
<ellipse cx="445.0" cy="270.97" rx="3.15" ry="3.5" fill="#000"/>
<ellipse cx="445.0" cy="278.48" rx="3.15" ry="3.5" fill="#000"/>
<ellipse cx="445.0" cy="285.99" rx="3.15" ry="3.5" fill="#000"/>
<ellipse cx="445.0" cy="293.50" rx="3.15" ry="3.5" fill="#000"/>
<ellipse cx="482.9" cy="218.40" rx="3.15" ry="3.5" fill="#000"/>
<ellipse cx="482.9" cy="225.91" rx="3.15" ry="3.5" fill="#000"/>
<ellipse cx="482.9" cy="233.42" rx="3.15" ry="3.5" fill="#000"/>
<ellipse cx="482.9" cy="240.93" rx="3.15" ry="3.5" fill="#000"/>
<ellipse cx="482.9" cy="248.44" rx="3.15" ry="3.5" fill="#000"/>
<ellipse cx="482.9" cy="255.95" rx="3.15" ry="3.5" fill="#000"/>
<ellipse cx="482.9" cy="263.46" rx="3.15" ry="3.5" fill="#000"/>
<ellipse cx="482.9" cy="270.97" rx="3.15" ry="3.5" fill="#000"/>
<ellipse cx="482.9" cy="278.48" rx="3.15" ry="3.5" fill="#000"/>
<ellipse cx="482.9" cy="285.99" rx="3.15" ry="3.5" fill="#000"/>
<ellipse cx="482.9" cy="293.50" rx="3.15" ry="3.5" fill="#000"/>
<ellipse cx="493.0" cy="218.40" rx="3.15" ry="3.5" fill="#000"/>
<ellipse cx="493.0" cy="225.91" rx="3.15" ry="3.5" fill="#000"/>
<ellipse cx="493.0" cy="233.42" rx="3.15" ry="3.5" fill="#000"/>
<ellipse cx="493.0" cy="240.93" rx="3.15" ry="3.5" fill="#000"/>
<ellipse cx="493.0" cy="248.44" rx="3.15" ry="3.5" fill="#000"/>
<ellipse cx="493.0" cy="255.95" rx="3.15" ry="3.5" fill="#000"/>
<ellipse cx="493.0" cy="263.46" rx="3.15" ry="3.5" fill="#000"/>
<ellipse cx="493.0" cy="270.97" rx="3.15" ry="3.5" fill="#000"/>
<ellipse cx="493.0" cy="278.48" rx="3.15" ry="3.5" fill="#000"/>
<ellipse cx="493.0" cy="285.99" rx="3.15" ry="3.5" fill="#000"/>
<ellipse cx="493.0" cy="293.50" rx="3.15" ry="3.5" fill="#000"/>
<ellipse cx="518.9" cy="218.40" rx="3.15" ry="3.5" fill="#000"/>
<ellipse cx="518.9" cy="225.91" rx="3.15" ry="3.5" fill="#000"/>
<ellipse cx="518.9" cy="233.42" rx="3.15" ry="3.5" fill="#000"/>
<ellipse cx="518.9" cy="240.93" rx="3.15" ry="3.5" fill="#000"/>
<ellipse cx="518.9" cy="248.44" rx="3.15" ry="3.5" fill="#000"/>
<ellipse cx="518.9" cy="255.95" rx="3.15" ry="3.5" fill="#000"/>
<ellipse cx="518.9" cy="263.46" rx="3.15" ry="3.5" fill="#000"/>
<ellipse cx="518.9" cy="270.97" rx="3.15" ry="3.5" fill="#000"/>
<ellipse cx="518.9" cy="278.48" rx="3.15" ry="3.5" fill="#000"/>
<ellipse cx="518.9" cy="285.99" rx="3.15" ry="3.5" fill="#000"/>
<ellipse cx="518.9" cy="293.50" rx="3.15" ry="3.5" fill="#000"/>
<ellipse cx="526.2" cy="218.40" rx="3.15" ry="3.5" fill="#000"/>
<ellipse cx="526.2" cy="225.91" rx="3.15" ry="3.5" fill="#000"/>
<ellipse cx="526.2" cy="233.42" rx="3.15" ry="3.5" fill="#000"/>
<ellipse cx="526.2" cy="240.93" rx="3.15" ry="3.5" fill="#000"/>
<ellipse cx="526.2" cy="248.44" rx="3.15" ry="3.5" fill="#000"/>
<ellipse cx="526.2" cy="255.95" rx="3.15" ry="3.5" fill="#000"/>
<ellipse cx="526.2" cy="263.46" rx="3.15" ry="3.5" fill="#000"/>
<ellipse cx="526.2" cy="270.97" rx="3.15" ry="3.5" fill="#000"/>
<ellipse cx="526.2" cy="278.48" rx="3.15" ry="3.5" fill="#000"/>
<ellipse cx="526.2" cy="285.99" rx="3.15" ry="3.5" fill="#000"/>
<ellipse cx="526.2" cy="293.50" rx="3.15" ry="3.5" fill="#000"/>
<ellipse cx="541.7" cy="218.40" rx="3.15" ry="3.5" fill="#000"/>
<ellipse cx="541.7" cy="225.91" rx="3.15" ry="3.5" fill="#000"/>
<ellipse cx="541.7" cy="233.42" rx="3.15" ry="3.5" fill="#000"/>
<ellipse cx="541.7" cy="240.93" rx="3.15" ry="3.5" fill="#000"/>
<ellipse cx="541.7" cy="248.44" rx="3.15" ry="3.5" fill="#000"/>
<ellipse cx="541.7" cy="255.95" rx="3.15" ry="3.5" fill="#000"/>
<ellipse cx="541.7" cy="263.46" rx="3.15" ry="3.5" fill="#000"/>
<ellipse cx="541.7" cy="270.97" rx="3.15" ry="3.5" fill="#000"/>
<ellipse cx="541.7" cy="278.48" rx="3.15" ry="3.5" fill="#000"/>
<ellipse cx="541.7" cy="285.99" rx="3.15" ry="3.5" fill="#000"/>
<ellipse cx="541.7" cy="293.50" rx="3.15" ry="3.5" fill="#000"/>
<ellipse cx="562.8" cy="218.40" rx="3.15" ry="3.5" fill="#000"/>
<ellipse cx="562.8" cy="225.91" rx="3.15" ry="3.5" fill="#000"/>
<ellipse cx="562.8" cy="233.42" rx="3.15" ry="3.5" fill="#000"/>
<ellipse cx="562.8" cy="240.93" rx="3.15" ry="3.5" fill="#000"/>
<ellipse cx="562.8" cy="248.44" rx="3.15" ry="3.5" fill="#000"/>
<ellipse cx="562.8" cy="255.95" rx="3.15" ry="3.5" fill="#000"/>
<ellipse cx="562.8" cy="263.46" rx="3.15" ry="3.5" fill="#000"/>
<ellipse cx="562.8" cy="270.97" rx="3.15" ry="3.5" fill="#000"/>
<ellipse cx="562.8" cy="278.48" rx="3.15" ry="3.5" fill="#000"/>
<ellipse cx="562.8" cy="285.99" rx="3.15" ry="3.5" fill="#000"/>
<ellipse cx="562.8" cy="293.50" rx="3.15" ry="3.5" fill="#000"/>
<line x1="347.0" y1="317.70" x2="578.3" y2="317.70" stroke="#000" stroke-width="1.4"/>
<line x1="347.0" y1="324.58" x2="578.3" y2="324.58" stroke="#000" stroke-width="1.4"/>
<line x1="347.0" y1="331.46" x2="578.3" y2="331.46" stroke="#000" stroke-width="1.4"/>
<line x1="347.0" y1="338.34" x2="578.3" y2="338.34" stroke="#000" stroke-width="1.4"/>
<line x1="347.0" y1="345.22" x2="578.3" y2="345.22" stroke="#000" stroke-width="1.4"/>
<line x1="347.0" y1="352.10" x2="578.3" y2="352.10" stroke="#000" stroke-width="1.4"/>
<line x1="347.0" y1="358.98" x2="578.3" y2="358.98" stroke="#000" stroke-width="1.4"/>
<line x1="347.0" y1="365.86" x2="578.3" y2="365.86" stroke="#000" stroke-width="1.4"/>
<line x1="347.0" y1="372.74" x2="578.3" y2="372.74" stroke="#000" stroke-width="1.4"/>
<line x1="347.0" y1="379.62" x2="578.3" y2="379.62" stroke="#000" stroke-width="1.4"/>
<line x1="347.0" y1="386.50" x2="578.3" y2="386.50" stroke="#000" stroke-width="1.4"/>
<line x1="347.0" y1="393.38" x2="578.3" y2="393.38" stroke="#000" stroke-width="1.4"/>
<ellipse cx="359.0" cy="317.70" rx="2.60" ry="2.60" fill="#fff" stroke="#000" stroke-width="1.2"/>
<ellipse cx="359.0" cy="324.58" rx="3.2" ry="3.2" fill="#000"/>
<ellipse cx="359.0" cy="331.46" rx="3.2" ry="3.2" fill="#000"/>
<ellipse cx="359.0" cy="338.34" rx="2.60" ry="2.60" fill="#fff" stroke="#000" stroke-width="1.2"/>
<ellipse cx="359.0" cy="345.22" rx="3.2" ry="3.2" fill="#000"/>
<ellipse cx="359.0" cy="352.10" rx="3.2" ry="3.2" fill="#000"/>
<ellipse cx="359.0" cy="358.98" rx="3.2" ry="3.2" fill="#000"/>
<ellipse cx="359.0" cy="365.86" rx="3.2" ry="3.2" fill="#000"/>
<ellipse cx="359.0" cy="372.74" rx="3.2" ry="3.2" fill="#000"/>
<ellipse cx="359.0" cy="379.62" rx="3.2" ry="3.2" fill="#000"/>
<ellipse cx="359.0" cy="386.50" rx="3.2" ry="3.2" fill="#000"/>
<ellipse cx="359.0" cy="393.38" rx="3.2" ry="3.2" fill="#000"/>
<ellipse cx="370.5" cy="317.70" rx="3.2" ry="3.2" fill="#000"/>
<ellipse cx="370.5" cy="324.58" rx="3.2" ry="3.2" fill="#000"/>
<ellipse cx="370.5" cy="331.46" rx="3.2" ry="3.2" fill="#000"/>
<ellipse cx="370.5" cy="338.34" rx="3.2" ry="3.2" fill="#000"/>
<ellipse cx="370.5" cy="345.22" rx="3.2" ry="3.2" fill="#000"/>
<ellipse cx="370.5" cy="352.10" rx="3.2" ry="3.2" fill="#000"/>
<ellipse cx="370.5" cy="358.98" rx="3.2" ry="3.2" fill="#000"/>
<ellipse cx="370.5" cy="365.86" rx="3.2" ry="3.2" fill="#000"/>
<ellipse cx="370.5" cy="372.74" rx="3.2" ry="3.2" fill="#000"/>
<ellipse cx="370.5" cy="379.62" rx="3.2" ry="3.2" fill="#000"/>
<ellipse cx="370.5" cy="386.50" rx="3.2" ry="3.2" fill="#000"/>
<ellipse cx="370.5" cy="393.38" rx="3.2" ry="3.2" fill="#000"/>
<ellipse cx="406.2" cy="317.70" rx="2.60" ry="2.60" fill="#fff" stroke="#000" stroke-width="1.2"/>
<ellipse cx="406.2" cy="324.58" rx="3.2" ry="3.2" fill="#000"/>
<ellipse cx="406.2" cy="331.46" rx="2.60" ry="2.60" fill="#fff" stroke="#000" stroke-width="1.2"/>
<ellipse cx="406.2" cy="338.34" rx="2.60" ry="2.60" fill="#fff" stroke="#000" stroke-width="1.2"/>
<ellipse cx="406.2" cy="345.22" rx="3.2" ry="3.2" fill="#000"/>
<ellipse cx="406.2" cy="352.10" rx="3.2" ry="3.2" fill="#000"/>
<ellipse cx="406.2" cy="358.98" rx="3.2" ry="3.2" fill="#000"/>
<ellipse cx="406.2" cy="365.86" rx="3.2" ry="3.2" fill="#000"/>
<ellipse cx="406.2" cy="372.74" rx="3.2" ry="3.2" fill="#000"/>
<ellipse cx="406.2" cy="379.62" rx="3.2" ry="3.2" fill="#000"/>
<ellipse cx="406.2" cy="386.50" rx="3.2" ry="3.2" fill="#000"/>
<ellipse cx="406.2" cy="393.38" rx="3.2" ry="3.2" fill="#000"/>
<ellipse cx="424.6" cy="317.70" rx="3.2" ry="3.2" fill="#000"/>
<ellipse cx="424.6" cy="324.58" rx="3.2" ry="3.2" fill="#000"/>
<ellipse cx="424.6" cy="331.46" rx="3.2" ry="3.2" fill="#000"/>
<ellipse cx="424.6" cy="338.34" rx="3.2" ry="3.2" fill="#000"/>
<ellipse cx="424.6" cy="345.22" rx="3.2" ry="3.2" fill="#000"/>
<ellipse cx="424.6" cy="352.10" rx="3.2" ry="3.2" fill="#000"/>
<ellipse cx="424.6" cy="358.98" rx="3.2" ry="3.2" fill="#000"/>
<ellipse cx="424.6" cy="365.86" rx="3.2" ry="3.2" fill="#000"/>
<ellipse cx="424.6" cy="372.74" rx="3.2" ry="3.2" fill="#000"/>
<ellipse cx="424.6" cy="379.62" rx="3.2" ry="3.2" fill="#000"/>
<ellipse cx="424.6" cy="386.50" rx="3.2" ry="3.2" fill="#000"/>
<ellipse cx="424.6" cy="393.38" rx="3.2" ry="3.2" fill="#000"/>
<ellipse cx="445.0" cy="317.70" rx="3.2" ry="3.2" fill="#000"/>
<ellipse cx="445.0" cy="324.58" rx="3.2" ry="3.2" fill="#000"/>
<ellipse cx="445.0" cy="331.46" rx="3.2" ry="3.2" fill="#000"/>
<ellipse cx="445.0" cy="338.34" rx="3.2" ry="3.2" fill="#000"/>
<ellipse cx="445.0" cy="345.22" rx="3.2" ry="3.2" fill="#000"/>
<ellipse cx="445.0" cy="352.10" rx="3.2" ry="3.2" fill="#000"/>
<ellipse cx="445.0" cy="358.98" rx="3.2" ry="3.2" fill="#000"/>
<ellipse cx="445.0" cy="365.86" rx="3.2" ry="3.2" fill="#000"/>
<ellipse cx="445.0" cy="372.74" rx="3.2" ry="3.2" fill="#000"/>
<ellipse cx="445.0" cy="379.62" rx="3.2" ry="3.2" fill="#000"/>
<ellipse cx="445.0" cy="386.50" rx="3.2" ry="3.2" fill="#000"/>
<ellipse cx="445.0" cy="393.38" rx="3.2" ry="3.2" fill="#000"/>
<ellipse cx="482.9" cy="317.70" rx="3.2" ry="3.2" fill="#000"/>
<ellipse cx="482.9" cy="324.58" rx="3.2" ry="3.2" fill="#000"/>
<ellipse cx="482.9" cy="331.46" rx="3.2" ry="3.2" fill="#000"/>
<ellipse cx="482.9" cy="338.34" rx="3.2" ry="3.2" fill="#000"/>
<ellipse cx="482.9" cy="345.22" rx="3.2" ry="3.2" fill="#000"/>
<ellipse cx="482.9" cy="352.10" rx="3.2" ry="3.2" fill="#000"/>
<ellipse cx="482.9" cy="358.98" rx="3.2" ry="3.2" fill="#000"/>
<ellipse cx="482.9" cy="365.86" rx="3.2" ry="3.2" fill="#000"/>
<ellipse cx="482.9" cy="372.74" rx="3.2" ry="3.2" fill="#000"/>
<ellipse cx="482.9" cy="379.62" rx="3.2" ry="3.2" fill="#000"/>
<ellipse cx="482.9" cy="386.50" rx="3.2" ry="3.2" fill="#000"/>
<ellipse cx="482.9" cy="393.38" rx="3.2" ry="3.2" fill="#000"/>
<ellipse cx="493.0" cy="317.70" rx="3.2" ry="3.2" fill="#000"/>
<ellipse cx="493.0" cy="324.58" rx="3.2" ry="3.2" fill="#000"/>
<ellipse cx="493.0" cy="331.46" rx="3.2" ry="3.2" fill="#000"/>
<ellipse cx="493.0" cy="338.34" rx="3.2" ry="3.2" fill="#000"/>
<ellipse cx="493.0" cy="345.22" rx="3.2" ry="3.2" fill="#000"/>
<ellipse cx="493.0" cy="352.10" rx="3.2" ry="3.2" fill="#000"/>
<ellipse cx="493.0" cy="358.98" rx="3.2" ry="3.2" fill="#000"/>
<ellipse cx="493.0" cy="365.86" rx="3.2" ry="3.2" fill="#000"/>
<ellipse cx="493.0" cy="372.74" rx="3.2" ry="3.2" fill="#000"/>
<ellipse cx="493.0" cy="379.62" rx="3.2" ry="3.2" fill="#000"/>
<ellipse cx="493.0" cy="386.50" rx="3.2" ry="3.2" fill="#000"/>
<ellipse cx="493.0" cy="393.38" rx="3.2" ry="3.2" fill="#000"/>
<ellipse cx="518.9" cy="317.70" rx="3.2" ry="3.2" fill="#000"/>
<ellipse cx="518.9" cy="324.58" rx="3.2" ry="3.2" fill="#000"/>
<ellipse cx="518.9" cy="331.46" rx="3.2" ry="3.2" fill="#000"/>
<ellipse cx="518.9" cy="338.34" rx="3.2" ry="3.2" fill="#000"/>
<ellipse cx="518.9" cy="345.22" rx="3.2" ry="3.2" fill="#000"/>
<ellipse cx="518.9" cy="352.10" rx="3.2" ry="3.2" fill="#000"/>
<ellipse cx="518.9" cy="358.98" rx="3.2" ry="3.2" fill="#000"/>
<ellipse cx="518.9" cy="365.86" rx="3.2" ry="3.2" fill="#000"/>
<ellipse cx="518.9" cy="372.74" rx="3.2" ry="3.2" fill="#000"/>
<ellipse cx="518.9" cy="379.62" rx="3.2" ry="3.2" fill="#000"/>
<ellipse cx="518.9" cy="386.50" rx="3.2" ry="3.2" fill="#000"/>
<ellipse cx="518.9" cy="393.38" rx="3.2" ry="3.2" fill="#000"/>
<ellipse cx="526.2" cy="317.70" rx="3.2" ry="3.2" fill="#000"/>
<ellipse cx="526.2" cy="324.58" rx="3.2" ry="3.2" fill="#000"/>
<ellipse cx="526.2" cy="331.46" rx="3.2" ry="3.2" fill="#000"/>
<ellipse cx="526.2" cy="338.34" rx="3.2" ry="3.2" fill="#000"/>
<ellipse cx="526.2" cy="345.22" rx="3.2" ry="3.2" fill="#000"/>
<ellipse cx="526.2" cy="352.10" rx="3.2" ry="3.2" fill="#000"/>
<ellipse cx="526.2" cy="358.98" rx="3.2" ry="3.2" fill="#000"/>
<ellipse cx="526.2" cy="365.86" rx="3.2" ry="3.2" fill="#000"/>
<ellipse cx="526.2" cy="372.74" rx="3.2" ry="3.2" fill="#000"/>
<ellipse cx="526.2" cy="379.62" rx="3.2" ry="3.2" fill="#000"/>
<ellipse cx="526.2" cy="386.50" rx="3.2" ry="3.2" fill="#000"/>
<ellipse cx="526.2" cy="393.38" rx="3.2" ry="3.2" fill="#000"/>
<ellipse cx="541.7" cy="317.70" rx="2.60" ry="2.60" fill="#fff" stroke="#000" stroke-width="1.2"/>
<ellipse cx="541.7" cy="324.58" rx="3.2" ry="3.2" fill="#000"/>
<ellipse cx="541.7" cy="331.46" rx="2.60" ry="2.60" fill="#fff" stroke="#000" stroke-width="1.2"/>
<ellipse cx="541.7" cy="338.34" rx="3.2" ry="3.2" fill="#000"/>
<ellipse cx="541.7" cy="345.22" rx="3.2" ry="3.2" fill="#000"/>
<ellipse cx="541.7" cy="352.10" rx="3.2" ry="3.2" fill="#000"/>
<ellipse cx="541.7" cy="358.98" rx="3.2" ry="3.2" fill="#000"/>
<ellipse cx="541.7" cy="365.86" rx="3.2" ry="3.2" fill="#000"/>
<ellipse cx="541.7" cy="372.74" rx="3.2" ry="3.2" fill="#000"/>
<ellipse cx="541.7" cy="379.62" rx="3.2" ry="3.2" fill="#000"/>
<ellipse cx="541.7" cy="386.50" rx="3.2" ry="3.2" fill="#000"/>
<ellipse cx="541.7" cy="393.38" rx="3.2" ry="3.2" fill="#000"/>
<ellipse cx="562.8" cy="317.70" rx="3.2" ry="3.2" fill="#000"/>
<ellipse cx="562.8" cy="324.58" rx="3.2" ry="3.2" fill="#000"/>
<ellipse cx="562.8" cy="331.46" rx="3.2" ry="3.2" fill="#000"/>
<ellipse cx="562.8" cy="338.34" rx="3.2" ry="3.2" fill="#000"/>
<ellipse cx="562.8" cy="345.22" rx="3.2" ry="3.2" fill="#000"/>
<ellipse cx="562.8" cy="352.10" rx="3.2" ry="3.2" fill="#000"/>
<ellipse cx="562.8" cy="358.98" rx="3.2" ry="3.2" fill="#000"/>
<ellipse cx="562.8" cy="365.86" rx="3.2" ry="3.2" fill="#000"/>
<ellipse cx="562.8" cy="372.74" rx="3.2" ry="3.2" fill="#000"/>
<ellipse cx="562.8" cy="379.62" rx="3.2" ry="3.2" fill="#000"/>
<ellipse cx="562.8" cy="386.50" rx="3.2" ry="3.2" fill="#000"/>
<ellipse cx="562.8" cy="393.38" rx="3.2" ry="3.2" fill="#000"/>
<line x1="346.6" y1="417.30" x2="578.3" y2="417.30" stroke="#000" stroke-width="1.4"/>
<line x1="346.6" y1="424.16" x2="578.3" y2="424.16" stroke="#000" stroke-width="1.4"/>
<line x1="346.6" y1="431.02" x2="578.3" y2="431.02" stroke="#000" stroke-width="1.4"/>
<line x1="346.6" y1="437.88" x2="578.3" y2="437.88" stroke="#000" stroke-width="1.4"/>
<line x1="346.6" y1="444.74" x2="578.3" y2="444.74" stroke="#000" stroke-width="1.4"/>
<line x1="346.6" y1="451.60" x2="578.3" y2="451.60" stroke="#000" stroke-width="1.4"/>
<line x1="346.6" y1="458.46" x2="578.3" y2="458.46" stroke="#000" stroke-width="1.4"/>
<line x1="346.6" y1="465.32" x2="578.3" y2="465.32" stroke="#000" stroke-width="1.4"/>
<line x1="346.6" y1="472.18" x2="578.3" y2="472.18" stroke="#000" stroke-width="1.4"/>
<line x1="346.6" y1="479.04" x2="578.3" y2="479.04" stroke="#000" stroke-width="1.4"/>
<line x1="346.6" y1="485.90" x2="578.3" y2="485.90" stroke="#000" stroke-width="1.4"/>
<line x1="346.6" y1="492.76" x2="578.3" y2="492.76" stroke="#000" stroke-width="1.4"/>
<ellipse cx="359.0" cy="417.30" rx="2.60" ry="2.60" fill="#fff" stroke="#000" stroke-width="1.2"/>
<ellipse cx="359.0" cy="424.16" rx="3.2" ry="3.2" fill="#000"/>
<ellipse cx="359.0" cy="431.02" rx="3.2" ry="3.2" fill="#000"/>
<ellipse cx="359.0" cy="437.88" rx="2.60" ry="2.60" fill="#fff" stroke="#000" stroke-width="1.2"/>
<ellipse cx="359.0" cy="444.74" rx="3.2" ry="3.2" fill="#000"/>
<ellipse cx="359.0" cy="451.60" rx="3.2" ry="3.2" fill="#000"/>
<ellipse cx="359.0" cy="458.46" rx="3.2" ry="3.2" fill="#000"/>
<ellipse cx="359.0" cy="465.32" rx="3.2" ry="3.2" fill="#000"/>
<ellipse cx="359.0" cy="472.18" rx="3.2" ry="3.2" fill="#000"/>
<ellipse cx="359.0" cy="479.04" rx="3.2" ry="3.2" fill="#000"/>
<ellipse cx="359.0" cy="485.90" rx="3.2" ry="3.2" fill="#000"/>
<ellipse cx="359.0" cy="492.76" rx="3.2" ry="3.2" fill="#000"/>
<ellipse cx="370.5" cy="417.30" rx="3.2" ry="3.2" fill="#000"/>
<ellipse cx="370.5" cy="424.16" rx="3.2" ry="3.2" fill="#000"/>
<ellipse cx="370.5" cy="431.02" rx="3.2" ry="3.2" fill="#000"/>
<ellipse cx="370.5" cy="437.88" rx="3.2" ry="3.2" fill="#000"/>
<ellipse cx="370.5" cy="444.74" rx="3.2" ry="3.2" fill="#000"/>
<ellipse cx="370.5" cy="451.60" rx="3.2" ry="3.2" fill="#000"/>
<ellipse cx="370.5" cy="458.46" rx="3.2" ry="3.2" fill="#000"/>
<ellipse cx="370.5" cy="465.32" rx="3.2" ry="3.2" fill="#000"/>
<ellipse cx="370.5" cy="472.18" rx="3.2" ry="3.2" fill="#000"/>
<ellipse cx="370.5" cy="479.04" rx="3.2" ry="3.2" fill="#000"/>
<ellipse cx="370.5" cy="485.90" rx="3.2" ry="3.2" fill="#000"/>
<ellipse cx="370.5" cy="492.76" rx="3.2" ry="3.2" fill="#000"/>
<ellipse cx="406.2" cy="417.30" rx="2.60" ry="2.60" fill="#fff" stroke="#000" stroke-width="1.2"/>
<ellipse cx="406.2" cy="424.16" rx="3.2" ry="3.2" fill="#000"/>
<ellipse cx="406.2" cy="431.02" rx="2.60" ry="2.60" fill="#fff" stroke="#000" stroke-width="1.2"/>
<ellipse cx="406.2" cy="437.88" rx="2.60" ry="2.60" fill="#fff" stroke="#000" stroke-width="1.2"/>
<ellipse cx="406.2" cy="444.74" rx="3.2" ry="3.2" fill="#000"/>
<ellipse cx="406.2" cy="451.60" rx="3.2" ry="3.2" fill="#000"/>
<ellipse cx="406.2" cy="458.46" rx="3.2" ry="3.2" fill="#000"/>
<ellipse cx="406.2" cy="465.32" rx="3.2" ry="3.2" fill="#000"/>
<ellipse cx="406.2" cy="472.18" rx="3.2" ry="3.2" fill="#000"/>
<ellipse cx="406.2" cy="479.04" rx="3.2" ry="3.2" fill="#000"/>
<ellipse cx="406.2" cy="485.90" rx="3.2" ry="3.2" fill="#000"/>
<ellipse cx="406.2" cy="492.76" rx="3.2" ry="3.2" fill="#000"/>
<ellipse cx="424.6" cy="417.30" rx="3.2" ry="3.2" fill="#000"/>
<ellipse cx="424.6" cy="424.16" rx="3.2" ry="3.2" fill="#000"/>
<ellipse cx="424.6" cy="431.02" rx="3.2" ry="3.2" fill="#000"/>
<ellipse cx="424.6" cy="437.88" rx="3.2" ry="3.2" fill="#000"/>
<ellipse cx="424.6" cy="444.74" rx="3.2" ry="3.2" fill="#000"/>
<ellipse cx="424.6" cy="451.60" rx="3.2" ry="3.2" fill="#000"/>
<ellipse cx="424.6" cy="458.46" rx="3.2" ry="3.2" fill="#000"/>
<ellipse cx="424.6" cy="465.32" rx="3.2" ry="3.2" fill="#000"/>
<ellipse cx="424.6" cy="472.18" rx="3.2" ry="3.2" fill="#000"/>
<ellipse cx="424.6" cy="479.04" rx="3.2" ry="3.2" fill="#000"/>
<ellipse cx="424.6" cy="485.90" rx="3.2" ry="3.2" fill="#000"/>
<ellipse cx="424.6" cy="492.76" rx="3.2" ry="3.2" fill="#000"/>
<ellipse cx="445.0" cy="417.30" rx="3.2" ry="3.2" fill="#000"/>
<ellipse cx="445.0" cy="424.16" rx="3.2" ry="3.2" fill="#000"/>
<ellipse cx="445.0" cy="431.02" rx="3.2" ry="3.2" fill="#000"/>
<ellipse cx="445.0" cy="437.88" rx="3.2" ry="3.2" fill="#000"/>
<ellipse cx="445.0" cy="444.74" rx="3.2" ry="3.2" fill="#000"/>
<ellipse cx="445.0" cy="451.60" rx="3.2" ry="3.2" fill="#000"/>
<ellipse cx="445.0" cy="458.46" rx="3.2" ry="3.2" fill="#000"/>
<ellipse cx="445.0" cy="465.32" rx="3.2" ry="3.2" fill="#000"/>
<ellipse cx="445.0" cy="472.18" rx="3.2" ry="3.2" fill="#000"/>
<ellipse cx="445.0" cy="479.04" rx="3.2" ry="3.2" fill="#000"/>
<ellipse cx="445.0" cy="485.90" rx="3.2" ry="3.2" fill="#000"/>
<ellipse cx="445.0" cy="492.76" rx="3.2" ry="3.2" fill="#000"/>
<ellipse cx="482.9" cy="417.30" rx="3.2" ry="3.2" fill="#000"/>
<ellipse cx="482.9" cy="424.16" rx="3.2" ry="3.2" fill="#000"/>
<ellipse cx="482.9" cy="431.02" rx="3.2" ry="3.2" fill="#000"/>
<ellipse cx="482.9" cy="437.88" rx="3.2" ry="3.2" fill="#000"/>
<ellipse cx="482.9" cy="444.74" rx="3.2" ry="3.2" fill="#000"/>
<ellipse cx="482.9" cy="451.60" rx="3.2" ry="3.2" fill="#000"/>
<ellipse cx="482.9" cy="458.46" rx="3.2" ry="3.2" fill="#000"/>
<ellipse cx="482.9" cy="465.32" rx="3.2" ry="3.2" fill="#000"/>
<ellipse cx="482.9" cy="472.18" rx="3.2" ry="3.2" fill="#000"/>
<ellipse cx="482.9" cy="479.04" rx="3.2" ry="3.2" fill="#000"/>
<ellipse cx="482.9" cy="485.90" rx="3.2" ry="3.2" fill="#000"/>
<ellipse cx="482.9" cy="492.76" rx="3.2" ry="3.2" fill="#000"/>
<ellipse cx="493.0" cy="417.30" rx="3.2" ry="3.2" fill="#000"/>
<ellipse cx="493.0" cy="424.16" rx="3.2" ry="3.2" fill="#000"/>
<ellipse cx="493.0" cy="431.02" rx="3.2" ry="3.2" fill="#000"/>
<ellipse cx="493.0" cy="437.88" rx="3.2" ry="3.2" fill="#000"/>
<ellipse cx="493.0" cy="444.74" rx="3.2" ry="3.2" fill="#000"/>
<ellipse cx="493.0" cy="451.60" rx="3.2" ry="3.2" fill="#000"/>
<ellipse cx="493.0" cy="458.46" rx="3.2" ry="3.2" fill="#000"/>
<ellipse cx="493.0" cy="465.32" rx="3.2" ry="3.2" fill="#000"/>
<ellipse cx="493.0" cy="472.18" rx="3.2" ry="3.2" fill="#000"/>
<ellipse cx="493.0" cy="479.04" rx="3.2" ry="3.2" fill="#000"/>
<ellipse cx="493.0" cy="485.90" rx="3.2" ry="3.2" fill="#000"/>
<ellipse cx="493.0" cy="492.76" rx="3.2" ry="3.2" fill="#000"/>
<ellipse cx="518.9" cy="417.30" rx="3.2" ry="3.2" fill="#000"/>
<ellipse cx="518.9" cy="424.16" rx="3.2" ry="3.2" fill="#000"/>
<ellipse cx="518.9" cy="431.02" rx="3.2" ry="3.2" fill="#000"/>
<ellipse cx="518.9" cy="437.88" rx="3.2" ry="3.2" fill="#000"/>
<ellipse cx="518.9" cy="444.74" rx="3.2" ry="3.2" fill="#000"/>
<ellipse cx="518.9" cy="451.60" rx="3.2" ry="3.2" fill="#000"/>
<ellipse cx="518.9" cy="458.46" rx="3.2" ry="3.2" fill="#000"/>
<ellipse cx="518.9" cy="465.32" rx="3.2" ry="3.2" fill="#000"/>
<ellipse cx="518.9" cy="472.18" rx="3.2" ry="3.2" fill="#000"/>
<ellipse cx="518.9" cy="479.04" rx="3.2" ry="3.2" fill="#000"/>
<ellipse cx="518.9" cy="485.90" rx="3.2" ry="3.2" fill="#000"/>
<ellipse cx="518.9" cy="492.76" rx="3.2" ry="3.2" fill="#000"/>
<ellipse cx="526.2" cy="417.30" rx="3.2" ry="3.2" fill="#000"/>
<ellipse cx="526.2" cy="424.16" rx="3.2" ry="3.2" fill="#000"/>
<ellipse cx="526.2" cy="431.02" rx="3.2" ry="3.2" fill="#000"/>
<ellipse cx="526.2" cy="437.88" rx="3.2" ry="3.2" fill="#000"/>
<ellipse cx="526.2" cy="444.74" rx="3.2" ry="3.2" fill="#000"/>
<ellipse cx="526.2" cy="451.60" rx="3.2" ry="3.2" fill="#000"/>
<ellipse cx="526.2" cy="458.46" rx="3.2" ry="3.2" fill="#000"/>
<ellipse cx="526.2" cy="465.32" rx="3.2" ry="3.2" fill="#000"/>
<ellipse cx="526.2" cy="472.18" rx="3.2" ry="3.2" fill="#000"/>
<ellipse cx="526.2" cy="479.04" rx="3.2" ry="3.2" fill="#000"/>
<ellipse cx="526.2" cy="485.90" rx="3.2" ry="3.2" fill="#000"/>
<ellipse cx="526.2" cy="492.76" rx="3.2" ry="3.2" fill="#000"/>
<ellipse cx="541.7" cy="417.30" rx="2.60" ry="2.60" fill="#fff" stroke="#000" stroke-width="1.2"/>
<ellipse cx="541.7" cy="424.16" rx="3.2" ry="3.2" fill="#000"/>
<ellipse cx="541.7" cy="431.02" rx="2.60" ry="2.60" fill="#fff" stroke="#000" stroke-width="1.2"/>
<ellipse cx="541.7" cy="437.88" rx="3.2" ry="3.2" fill="#000"/>
<ellipse cx="541.7" cy="444.74" rx="3.2" ry="3.2" fill="#000"/>
<ellipse cx="541.7" cy="451.60" rx="3.2" ry="3.2" fill="#000"/>
<ellipse cx="541.7" cy="458.46" rx="3.2" ry="3.2" fill="#000"/>
<ellipse cx="541.7" cy="465.32" rx="3.2" ry="3.2" fill="#000"/>
<ellipse cx="541.7" cy="472.18" rx="3.2" ry="3.2" fill="#000"/>
<ellipse cx="541.7" cy="479.04" rx="3.2" ry="3.2" fill="#000"/>
<ellipse cx="541.7" cy="485.90" rx="3.2" ry="3.2" fill="#000"/>
<ellipse cx="541.7" cy="492.76" rx="3.2" ry="3.2" fill="#000"/>
<ellipse cx="562.8" cy="417.30" rx="3.2" ry="3.2" fill="#000"/>
<ellipse cx="562.8" cy="424.16" rx="3.2" ry="3.2" fill="#000"/>
<ellipse cx="562.8" cy="431.02" rx="3.2" ry="3.2" fill="#000"/>
<ellipse cx="562.8" cy="437.88" rx="3.2" ry="3.2" fill="#000"/>
<ellipse cx="562.8" cy="444.74" rx="3.2" ry="3.2" fill="#000"/>
<ellipse cx="562.8" cy="451.60" rx="3.2" ry="3.2" fill="#000"/>
<ellipse cx="562.8" cy="458.46" rx="3.2" ry="3.2" fill="#000"/>
<ellipse cx="562.8" cy="465.32" rx="3.2" ry="3.2" fill="#000"/>
<ellipse cx="562.8" cy="472.18" rx="3.2" ry="3.2" fill="#000"/>
<ellipse cx="562.8" cy="479.04" rx="3.2" ry="3.2" fill="#000"/>
<ellipse cx="562.8" cy="485.90" rx="3.2" ry="3.2" fill="#000"/>
<ellipse cx="562.8" cy="492.76" rx="3.2" ry="3.2" fill="#000"/>
<text x="326.2" y="60.7" font-size="12" class="g">N3</text>
<text x="326.2" y="157.8" font-size="12" class="g">N4</text>
<text x="326.2" y="258.1" font-size="12" class="g">N5</text>
<text x="326.2" y="362.6" font-size="12" class="g">N6</text>
<text x="326.2" y="455.7" font-size="12" class="g">N7</text>
<text x="42.2" y="317.9" font-size="17" font-weight="bold">b</text>
<text x="78.7" y="315.0" font-size="10.4" text-anchor="middle" class="d">1</text>
<text x="90.1" y="315.0" font-size="10.4" text-anchor="middle" class="d">2</text>
<text x="126.3" y="315.0" font-size="10.4" text-anchor="middle" class="d">3</text>
<text x="144.4" y="315.0" font-size="10.4" text-anchor="middle" class="d">4</text>
<text x="164.9" y="315.0" font-size="10.4" text-anchor="middle" class="d">5</text>
<text x="203.0" y="315.0" font-size="10.4" text-anchor="middle" class="d">6</text>
<text x="213.2" y="315.0" font-size="10.4" text-anchor="middle" class="d">7</text>
<text x="238.9" y="315.0" font-size="10.4" text-anchor="middle" class="d">8</text>
<text x="246.1" y="315.0" font-size="10.4" text-anchor="middle" class="d">9</text>
<text x="261.7" y="315.0" font-size="10.4" text-anchor="middle" class="d">10</text>
<text x="282.8" y="315.0" font-size="10.4" text-anchor="middle" class="d">11</text>
<line x1="67.0" y1="322.60" x2="298.8" y2="322.60" stroke="#000" stroke-width="1.4"/>
<line x1="67.0" y1="329.49" x2="298.8" y2="329.49" stroke="#000" stroke-width="1.4"/>
<line x1="67.0" y1="336.38" x2="298.8" y2="336.38" stroke="#000" stroke-width="1.4"/>
<line x1="67.0" y1="343.27" x2="298.8" y2="343.27" stroke="#000" stroke-width="1.4"/>
<line x1="67.0" y1="350.16" x2="298.8" y2="350.16" stroke="#000" stroke-width="1.4"/>
<line x1="67.0" y1="357.05" x2="298.8" y2="357.05" stroke="#000" stroke-width="1.4"/>
<line x1="67.0" y1="363.94" x2="298.8" y2="363.94" stroke="#000" stroke-width="1.4"/>
<line x1="67.0" y1="370.83" x2="298.8" y2="370.83" stroke="#000" stroke-width="1.4"/>
<line x1="67.0" y1="377.72" x2="298.8" y2="377.72" stroke="#000" stroke-width="1.4"/>
<line x1="67.0" y1="384.61" x2="298.8" y2="384.61" stroke="#000" stroke-width="1.4"/>
<line x1="67.0" y1="391.50" x2="298.8" y2="391.50" stroke="#000" stroke-width="1.4"/>
<line x1="67.0" y1="398.39" x2="298.8" y2="398.39" stroke="#000" stroke-width="1.4"/>
<ellipse cx="79.3" cy="322.60" rx="2.60" ry="2.60" fill="#fff" stroke="#000" stroke-width="1.2"/>
<ellipse cx="79.3" cy="329.49" rx="2.60" ry="2.60" fill="#fff" stroke="#000" stroke-width="1.2"/>
<ellipse cx="79.3" cy="336.38" rx="2.60" ry="2.60" fill="#fff" stroke="#000" stroke-width="1.2"/>
<ellipse cx="79.3" cy="343.27" rx="3.2" ry="3.2" fill="#000"/>
<ellipse cx="79.3" cy="350.16" rx="3.2" ry="3.2" fill="#000"/>
<ellipse cx="79.3" cy="357.05" rx="3.2" ry="3.2" fill="#000"/>
<ellipse cx="79.3" cy="363.94" rx="3.2" ry="3.2" fill="#000"/>
<ellipse cx="79.3" cy="370.83" rx="3.2" ry="3.2" fill="#000"/>
<ellipse cx="79.3" cy="377.72" rx="3.2" ry="3.2" fill="#000"/>
<ellipse cx="79.3" cy="384.61" rx="3.2" ry="3.2" fill="#000"/>
<ellipse cx="79.3" cy="391.50" rx="3.2" ry="3.2" fill="#000"/>
<ellipse cx="79.3" cy="398.39" rx="2.60" ry="2.60" fill="#fff" stroke="#000" stroke-width="1.2"/>
<ellipse cx="90.7" cy="322.60" rx="3.2" ry="3.2" fill="#000"/>
<ellipse cx="90.7" cy="329.49" rx="3.2" ry="3.2" fill="#000"/>
<ellipse cx="90.7" cy="336.38" rx="3.2" ry="3.2" fill="#000"/>
<ellipse cx="90.7" cy="343.27" rx="3.2" ry="3.2" fill="#000"/>
<ellipse cx="90.7" cy="350.16" rx="3.2" ry="3.2" fill="#000"/>
<ellipse cx="90.7" cy="357.05" rx="3.2" ry="3.2" fill="#000"/>
<ellipse cx="90.7" cy="363.94" rx="3.2" ry="3.2" fill="#000"/>
<ellipse cx="90.7" cy="370.83" rx="3.2" ry="3.2" fill="#000"/>
<ellipse cx="90.7" cy="377.72" rx="3.2" ry="3.2" fill="#000"/>
<ellipse cx="90.7" cy="384.61" rx="3.2" ry="3.2" fill="#000"/>
<ellipse cx="90.7" cy="391.50" rx="3.2" ry="3.2" fill="#000"/>
<ellipse cx="90.7" cy="398.39" rx="3.2" ry="3.2" fill="#000"/>
<ellipse cx="126.9" cy="322.60" rx="3.2" ry="3.2" fill="#000"/>
<ellipse cx="126.9" cy="329.49" rx="3.2" ry="3.2" fill="#000"/>
<ellipse cx="126.9" cy="336.38" rx="3.2" ry="3.2" fill="#000"/>
<ellipse cx="126.9" cy="343.27" rx="3.2" ry="3.2" fill="#000"/>
<ellipse cx="126.9" cy="350.16" rx="3.2" ry="3.2" fill="#000"/>
<ellipse cx="126.9" cy="357.05" rx="3.2" ry="3.2" fill="#000"/>
<ellipse cx="126.9" cy="363.94" rx="3.2" ry="3.2" fill="#000"/>
<ellipse cx="126.9" cy="370.83" rx="3.2" ry="3.2" fill="#000"/>
<ellipse cx="126.9" cy="377.72" rx="3.2" ry="3.2" fill="#000"/>
<ellipse cx="126.9" cy="384.61" rx="3.2" ry="3.2" fill="#000"/>
<ellipse cx="126.9" cy="391.50" rx="3.2" ry="3.2" fill="#000"/>
<ellipse cx="126.9" cy="398.39" rx="3.2" ry="3.2" fill="#000"/>
<ellipse cx="145.0" cy="322.60" rx="3.2" ry="3.2" fill="#000"/>
<ellipse cx="145.0" cy="329.49" rx="3.2" ry="3.2" fill="#000"/>
<ellipse cx="145.0" cy="336.38" rx="3.2" ry="3.2" fill="#000"/>
<ellipse cx="145.0" cy="343.27" rx="3.2" ry="3.2" fill="#000"/>
<ellipse cx="145.0" cy="350.16" rx="3.2" ry="3.2" fill="#000"/>
<ellipse cx="145.0" cy="357.05" rx="3.2" ry="3.2" fill="#000"/>
<ellipse cx="145.0" cy="363.94" rx="3.2" ry="3.2" fill="#000"/>
<ellipse cx="145.0" cy="370.83" rx="3.2" ry="3.2" fill="#000"/>
<ellipse cx="145.0" cy="377.72" rx="3.2" ry="3.2" fill="#000"/>
<ellipse cx="145.0" cy="384.61" rx="3.2" ry="3.2" fill="#000"/>
<ellipse cx="145.0" cy="391.50" rx="3.2" ry="3.2" fill="#000"/>
<ellipse cx="145.0" cy="398.39" rx="3.2" ry="3.2" fill="#000"/>
<ellipse cx="165.5" cy="322.60" rx="3.2" ry="3.2" fill="#000"/>
<ellipse cx="165.5" cy="329.49" rx="3.2" ry="3.2" fill="#000"/>
<ellipse cx="165.5" cy="336.38" rx="3.2" ry="3.2" fill="#000"/>
<ellipse cx="165.5" cy="343.27" rx="2.60" ry="2.60" fill="#fff" stroke="#000" stroke-width="1.2"/>
<ellipse cx="165.5" cy="350.16" rx="3.2" ry="3.2" fill="#000"/>
<ellipse cx="165.5" cy="357.05" rx="3.2" ry="3.2" fill="#000"/>
<ellipse cx="165.5" cy="363.94" rx="3.2" ry="3.2" fill="#000"/>
<ellipse cx="165.5" cy="370.83" rx="3.2" ry="3.2" fill="#000"/>
<ellipse cx="165.5" cy="377.72" rx="3.2" ry="3.2" fill="#000"/>
<ellipse cx="165.5" cy="384.61" rx="2.60" ry="2.60" fill="#fff" stroke="#000" stroke-width="1.2"/>
<ellipse cx="165.5" cy="391.50" rx="2.60" ry="2.60" fill="#fff" stroke="#000" stroke-width="1.2"/>
<ellipse cx="165.5" cy="398.39" rx="3.2" ry="3.2" fill="#000"/>
<ellipse cx="203.6" cy="322.60" rx="3.2" ry="3.2" fill="#000"/>
<ellipse cx="203.6" cy="329.49" rx="3.2" ry="3.2" fill="#000"/>
<ellipse cx="203.6" cy="336.38" rx="3.2" ry="3.2" fill="#000"/>
<ellipse cx="203.6" cy="343.27" rx="3.2" ry="3.2" fill="#000"/>
<ellipse cx="203.6" cy="350.16" rx="3.2" ry="3.2" fill="#000"/>
<ellipse cx="203.6" cy="357.05" rx="3.2" ry="3.2" fill="#000"/>
<ellipse cx="203.6" cy="363.94" rx="3.2" ry="3.2" fill="#000"/>
<ellipse cx="203.6" cy="370.83" rx="3.2" ry="3.2" fill="#000"/>
<ellipse cx="203.6" cy="377.72" rx="3.2" ry="3.2" fill="#000"/>
<ellipse cx="203.6" cy="384.61" rx="3.2" ry="3.2" fill="#000"/>
<ellipse cx="203.6" cy="391.50" rx="3.2" ry="3.2" fill="#000"/>
<ellipse cx="203.6" cy="398.39" rx="3.2" ry="3.2" fill="#000"/>
<ellipse cx="213.8" cy="322.60" rx="3.2" ry="3.2" fill="#000"/>
<ellipse cx="213.8" cy="329.49" rx="3.2" ry="3.2" fill="#000"/>
<ellipse cx="213.8" cy="336.38" rx="3.2" ry="3.2" fill="#000"/>
<ellipse cx="213.8" cy="343.27" rx="3.2" ry="3.2" fill="#000"/>
<ellipse cx="213.8" cy="350.16" rx="3.2" ry="3.2" fill="#000"/>
<ellipse cx="213.8" cy="357.05" rx="3.2" ry="3.2" fill="#000"/>
<ellipse cx="213.8" cy="363.94" rx="3.2" ry="3.2" fill="#000"/>
<ellipse cx="213.8" cy="370.83" rx="3.2" ry="3.2" fill="#000"/>
<ellipse cx="213.8" cy="377.72" rx="3.2" ry="3.2" fill="#000"/>
<ellipse cx="213.8" cy="384.61" rx="3.2" ry="3.2" fill="#000"/>
<ellipse cx="213.8" cy="391.50" rx="3.2" ry="3.2" fill="#000"/>
<ellipse cx="213.8" cy="398.39" rx="3.2" ry="3.2" fill="#000"/>
<ellipse cx="239.5" cy="322.60" rx="3.2" ry="3.2" fill="#000"/>
<ellipse cx="239.5" cy="329.49" rx="3.2" ry="3.2" fill="#000"/>
<ellipse cx="239.5" cy="336.38" rx="3.2" ry="3.2" fill="#000"/>
<ellipse cx="239.5" cy="343.27" rx="3.2" ry="3.2" fill="#000"/>
<ellipse cx="239.5" cy="350.16" rx="3.2" ry="3.2" fill="#000"/>
<ellipse cx="239.5" cy="357.05" rx="3.2" ry="3.2" fill="#000"/>
<ellipse cx="239.5" cy="363.94" rx="3.2" ry="3.2" fill="#000"/>
<ellipse cx="239.5" cy="370.83" rx="3.2" ry="3.2" fill="#000"/>
<ellipse cx="239.5" cy="377.72" rx="3.2" ry="3.2" fill="#000"/>
<ellipse cx="239.5" cy="384.61" rx="3.2" ry="3.2" fill="#000"/>
<ellipse cx="239.5" cy="391.50" rx="3.2" ry="3.2" fill="#000"/>
<ellipse cx="239.5" cy="398.39" rx="3.2" ry="3.2" fill="#000"/>
<ellipse cx="246.7" cy="322.60" rx="3.2" ry="3.2" fill="#000"/>
<ellipse cx="246.7" cy="329.49" rx="3.2" ry="3.2" fill="#000"/>
<ellipse cx="246.7" cy="336.38" rx="3.2" ry="3.2" fill="#000"/>
<ellipse cx="246.7" cy="343.27" rx="3.2" ry="3.2" fill="#000"/>
<ellipse cx="246.7" cy="350.16" rx="3.2" ry="3.2" fill="#000"/>
<ellipse cx="246.7" cy="357.05" rx="3.2" ry="3.2" fill="#000"/>
<ellipse cx="246.7" cy="363.94" rx="3.2" ry="3.2" fill="#000"/>
<ellipse cx="246.7" cy="370.83" rx="3.2" ry="3.2" fill="#000"/>
<ellipse cx="246.7" cy="377.72" rx="3.2" ry="3.2" fill="#000"/>
<ellipse cx="246.7" cy="384.61" rx="3.2" ry="3.2" fill="#000"/>
<ellipse cx="246.7" cy="391.50" rx="3.2" ry="3.2" fill="#000"/>
<ellipse cx="246.7" cy="398.39" rx="3.2" ry="3.2" fill="#000"/>
<ellipse cx="262.3" cy="322.60" rx="3.2" ry="3.2" fill="#000"/>
<ellipse cx="262.3" cy="329.49" rx="3.2" ry="3.2" fill="#000"/>
<ellipse cx="262.3" cy="336.38" rx="3.2" ry="3.2" fill="#000"/>
<ellipse cx="262.3" cy="343.27" rx="3.2" ry="3.2" fill="#000"/>
<ellipse cx="262.3" cy="350.16" rx="3.2" ry="3.2" fill="#000"/>
<ellipse cx="262.3" cy="357.05" rx="3.2" ry="3.2" fill="#000"/>
<ellipse cx="262.3" cy="363.94" rx="3.2" ry="3.2" fill="#000"/>
<ellipse cx="262.3" cy="370.83" rx="3.2" ry="3.2" fill="#000"/>
<ellipse cx="262.3" cy="377.72" rx="3.2" ry="3.2" fill="#000"/>
<ellipse cx="262.3" cy="384.61" rx="3.2" ry="3.2" fill="#000"/>
<ellipse cx="262.3" cy="391.50" rx="3.2" ry="3.2" fill="#000"/>
<ellipse cx="262.3" cy="398.39" rx="3.2" ry="3.2" fill="#000"/>
<ellipse cx="283.4" cy="322.60" rx="3.2" ry="3.2" fill="#000"/>
<ellipse cx="283.4" cy="329.49" rx="3.2" ry="3.2" fill="#000"/>
<ellipse cx="283.4" cy="336.38" rx="3.2" ry="3.2" fill="#000"/>
<ellipse cx="283.4" cy="343.27" rx="3.2" ry="3.2" fill="#000"/>
<ellipse cx="283.4" cy="350.16" rx="3.2" ry="3.2" fill="#000"/>
<ellipse cx="283.4" cy="357.05" rx="3.2" ry="3.2" fill="#000"/>
<ellipse cx="283.4" cy="363.94" rx="3.2" ry="3.2" fill="#000"/>
<ellipse cx="283.4" cy="370.83" rx="3.2" ry="3.2" fill="#000"/>
<ellipse cx="283.4" cy="377.72" rx="3.2" ry="3.2" fill="#000"/>
<ellipse cx="283.4" cy="384.61" rx="3.2" ry="3.2" fill="#000"/>
<ellipse cx="283.4" cy="391.50" rx="3.2" ry="3.2" fill="#000"/>
<ellipse cx="283.4" cy="398.39" rx="3.2" ry="3.2" fill="#000"/>
<line x1="64.8" y1="417.00" x2="296.1" y2="417.00" stroke="#000" stroke-width="1.4"/>
<line x1="64.8" y1="424.52" x2="296.1" y2="424.52" stroke="#000" stroke-width="1.4"/>
<line x1="64.8" y1="432.04" x2="296.1" y2="432.04" stroke="#000" stroke-width="1.4"/>
<line x1="64.8" y1="439.56" x2="296.1" y2="439.56" stroke="#000" stroke-width="1.4"/>
<line x1="64.8" y1="447.08" x2="296.1" y2="447.08" stroke="#000" stroke-width="1.4"/>
<line x1="64.8" y1="454.60" x2="296.1" y2="454.60" stroke="#000" stroke-width="1.4"/>
<line x1="64.8" y1="462.12" x2="296.1" y2="462.12" stroke="#000" stroke-width="1.4"/>
<line x1="64.8" y1="469.64" x2="296.1" y2="469.64" stroke="#000" stroke-width="1.4"/>
<line x1="64.8" y1="477.16" x2="296.1" y2="477.16" stroke="#000" stroke-width="1.4"/>
<line x1="64.8" y1="484.68" x2="296.1" y2="484.68" stroke="#000" stroke-width="1.4"/>
<line x1="64.8" y1="492.20" x2="296.1" y2="492.20" stroke="#000" stroke-width="1.4"/>
<ellipse cx="76.6" cy="417.00" rx="3.15" ry="3.55" fill="#000"/>
<ellipse cx="76.6" cy="424.52" rx="3.15" ry="3.55" fill="#000"/>
<ellipse cx="76.6" cy="432.04" rx="2.55" ry="2.95" fill="#fff" stroke="#000" stroke-width="1.2"/>
<ellipse cx="76.6" cy="439.56" rx="2.55" ry="2.95" fill="#fff" stroke="#000" stroke-width="1.2"/>
<ellipse cx="76.6" cy="447.08" rx="3.15" ry="3.55" fill="#000"/>
<ellipse cx="76.6" cy="454.60" rx="3.15" ry="3.55" fill="#000"/>
<ellipse cx="76.6" cy="462.12" rx="3.15" ry="3.55" fill="#000"/>
<ellipse cx="76.6" cy="469.64" rx="3.15" ry="3.55" fill="#000"/>
<ellipse cx="76.6" cy="477.16" rx="3.15" ry="3.55" fill="#000"/>
<ellipse cx="76.6" cy="484.68" rx="3.15" ry="3.55" fill="#000"/>
<ellipse cx="76.6" cy="492.20" rx="3.15" ry="3.55" fill="#000"/>
<ellipse cx="88.0" cy="417.00" rx="3.15" ry="3.55" fill="#000"/>
<ellipse cx="88.0" cy="424.52" rx="3.15" ry="3.55" fill="#000"/>
<ellipse cx="88.0" cy="432.04" rx="3.15" ry="3.55" fill="#000"/>
<ellipse cx="88.0" cy="439.56" rx="2.55" ry="2.95" fill="#fff" stroke="#000" stroke-width="1.2"/>
<ellipse cx="88.0" cy="447.08" rx="2.55" ry="2.95" fill="#fff" stroke="#000" stroke-width="1.2"/>
<ellipse cx="88.0" cy="454.60" rx="3.15" ry="3.55" fill="#000"/>
<ellipse cx="88.0" cy="462.12" rx="3.15" ry="3.55" fill="#000"/>
<ellipse cx="88.0" cy="469.64" rx="3.15" ry="3.55" fill="#000"/>
<ellipse cx="88.0" cy="477.16" rx="3.15" ry="3.55" fill="#000"/>
<ellipse cx="88.0" cy="484.68" rx="3.15" ry="3.55" fill="#000"/>
<ellipse cx="88.0" cy="492.20" rx="3.15" ry="3.55" fill="#000"/>
<ellipse cx="124.2" cy="417.00" rx="3.15" ry="3.55" fill="#000"/>
<ellipse cx="124.2" cy="424.52" rx="3.15" ry="3.55" fill="#000"/>
<ellipse cx="124.2" cy="432.04" rx="3.15" ry="3.55" fill="#000"/>
<ellipse cx="124.2" cy="439.56" rx="3.15" ry="3.55" fill="#000"/>
<ellipse cx="124.2" cy="447.08" rx="3.15" ry="3.55" fill="#000"/>
<ellipse cx="124.2" cy="454.60" rx="3.15" ry="3.55" fill="#000"/>
<ellipse cx="124.2" cy="462.12" rx="3.15" ry="3.55" fill="#000"/>
<ellipse cx="124.2" cy="469.64" rx="3.15" ry="3.55" fill="#000"/>
<ellipse cx="124.2" cy="477.16" rx="3.15" ry="3.55" fill="#000"/>
<ellipse cx="124.2" cy="484.68" rx="3.15" ry="3.55" fill="#000"/>
<ellipse cx="124.2" cy="492.20" rx="3.15" ry="3.55" fill="#000"/>
<ellipse cx="142.3" cy="417.00" rx="2.55" ry="2.95" fill="#fff" stroke="#000" stroke-width="1.2"/>
<ellipse cx="142.3" cy="424.52" rx="2.55" ry="2.95" fill="#fff" stroke="#000" stroke-width="1.2"/>
<ellipse cx="142.3" cy="432.04" rx="2.55" ry="2.95" fill="#fff" stroke="#000" stroke-width="1.2"/>
<ellipse cx="142.3" cy="439.56" rx="3.15" ry="3.55" fill="#000"/>
<ellipse cx="142.3" cy="447.08" rx="3.15" ry="3.55" fill="#000"/>
<ellipse cx="142.3" cy="454.60" rx="3.15" ry="3.55" fill="#000"/>
<ellipse cx="142.3" cy="462.12" rx="2.55" ry="2.95" fill="#fff" stroke="#000" stroke-width="1.2"/>
<ellipse cx="142.3" cy="469.64" rx="3.15" ry="3.55" fill="#000"/>
<ellipse cx="142.3" cy="477.16" rx="3.15" ry="3.55" fill="#000"/>
<ellipse cx="142.3" cy="484.68" rx="3.15" ry="3.55" fill="#000"/>
<ellipse cx="142.3" cy="492.20" rx="3.15" ry="3.55" fill="#000"/>
<ellipse cx="162.8" cy="417.00" rx="2.55" ry="2.95" fill="#fff" stroke="#000" stroke-width="1.2"/>
<ellipse cx="162.8" cy="424.52" rx="3.15" ry="3.55" fill="#000"/>
<ellipse cx="162.8" cy="432.04" rx="3.15" ry="3.55" fill="#000"/>
<ellipse cx="162.8" cy="439.56" rx="2.55" ry="2.95" fill="#fff" stroke="#000" stroke-width="1.2"/>
<ellipse cx="162.8" cy="447.08" rx="3.15" ry="3.55" fill="#000"/>
<ellipse cx="162.8" cy="454.60" rx="2.55" ry="2.95" fill="#fff" stroke="#000" stroke-width="1.2"/>
<ellipse cx="162.8" cy="462.12" rx="3.15" ry="3.55" fill="#000"/>
<ellipse cx="162.8" cy="469.64" rx="2.55" ry="2.95" fill="#fff" stroke="#000" stroke-width="1.2"/>
<ellipse cx="162.8" cy="477.16" rx="3.15" ry="3.55" fill="#000"/>
<ellipse cx="162.8" cy="484.68" rx="3.15" ry="3.55" fill="#000"/>
<ellipse cx="162.8" cy="492.20" rx="2.55" ry="2.95" fill="#fff" stroke="#000" stroke-width="1.2"/>
<ellipse cx="200.9" cy="417.00" rx="3.15" ry="3.55" fill="#000"/>
<ellipse cx="200.9" cy="424.52" rx="3.15" ry="3.55" fill="#000"/>
<ellipse cx="200.9" cy="432.04" rx="3.15" ry="3.55" fill="#000"/>
<ellipse cx="200.9" cy="439.56" rx="3.15" ry="3.55" fill="#000"/>
<ellipse cx="200.9" cy="447.08" rx="3.15" ry="3.55" fill="#000"/>
<ellipse cx="200.9" cy="454.60" rx="3.15" ry="3.55" fill="#000"/>
<ellipse cx="200.9" cy="462.12" rx="3.15" ry="3.55" fill="#000"/>
<ellipse cx="200.9" cy="469.64" rx="3.15" ry="3.55" fill="#000"/>
<ellipse cx="200.9" cy="477.16" rx="3.15" ry="3.55" fill="#000"/>
<ellipse cx="200.9" cy="484.68" rx="3.15" ry="3.55" fill="#000"/>
<ellipse cx="200.9" cy="492.20" rx="3.15" ry="3.55" fill="#000"/>
<ellipse cx="211.1" cy="417.00" rx="3.15" ry="3.55" fill="#000"/>
<ellipse cx="211.1" cy="424.52" rx="3.15" ry="3.55" fill="#000"/>
<ellipse cx="211.1" cy="432.04" rx="3.15" ry="3.55" fill="#000"/>
<ellipse cx="211.1" cy="439.56" rx="3.15" ry="3.55" fill="#000"/>
<ellipse cx="211.1" cy="447.08" rx="3.15" ry="3.55" fill="#000"/>
<ellipse cx="211.1" cy="454.60" rx="3.15" ry="3.55" fill="#000"/>
<ellipse cx="211.1" cy="462.12" rx="3.15" ry="3.55" fill="#000"/>
<ellipse cx="211.1" cy="469.64" rx="3.15" ry="3.55" fill="#000"/>
<ellipse cx="211.1" cy="477.16" rx="3.15" ry="3.55" fill="#000"/>
<ellipse cx="211.1" cy="484.68" rx="3.15" ry="3.55" fill="#000"/>
<ellipse cx="211.1" cy="492.20" rx="2.55" ry="2.95" fill="#fff" stroke="#000" stroke-width="1.2"/>
<ellipse cx="236.8" cy="417.00" rx="2.55" ry="2.95" fill="#fff" stroke="#000" stroke-width="1.2"/>
<ellipse cx="236.8" cy="424.52" rx="3.15" ry="3.55" fill="#000"/>
<ellipse cx="236.8" cy="432.04" rx="3.15" ry="3.55" fill="#000"/>
<ellipse cx="236.8" cy="439.56" rx="3.15" ry="3.55" fill="#000"/>
<ellipse cx="236.8" cy="447.08" rx="3.15" ry="3.55" fill="#000"/>
<ellipse cx="236.8" cy="454.60" rx="3.15" ry="3.55" fill="#000"/>
<ellipse cx="236.8" cy="462.12" rx="3.15" ry="3.55" fill="#000"/>
<ellipse cx="236.8" cy="469.64" rx="3.15" ry="3.55" fill="#000"/>
<ellipse cx="236.8" cy="477.16" rx="3.15" ry="3.55" fill="#000"/>
<ellipse cx="236.8" cy="484.68" rx="3.15" ry="3.55" fill="#000"/>
<ellipse cx="236.8" cy="492.20" rx="3.15" ry="3.55" fill="#000"/>
<ellipse cx="244.0" cy="417.00" rx="3.15" ry="3.55" fill="#000"/>
<ellipse cx="244.0" cy="424.52" rx="3.15" ry="3.55" fill="#000"/>
<ellipse cx="244.0" cy="432.04" rx="3.15" ry="3.55" fill="#000"/>
<ellipse cx="244.0" cy="439.56" rx="3.15" ry="3.55" fill="#000"/>
<ellipse cx="244.0" cy="447.08" rx="3.15" ry="3.55" fill="#000"/>
<ellipse cx="244.0" cy="454.60" rx="3.15" ry="3.55" fill="#000"/>
<ellipse cx="244.0" cy="462.12" rx="3.15" ry="3.55" fill="#000"/>
<ellipse cx="244.0" cy="469.64" rx="3.15" ry="3.55" fill="#000"/>
<ellipse cx="244.0" cy="477.16" rx="3.15" ry="3.55" fill="#000"/>
<ellipse cx="244.0" cy="484.68" rx="3.15" ry="3.55" fill="#000"/>
<ellipse cx="244.0" cy="492.20" rx="2.55" ry="2.95" fill="#fff" stroke="#000" stroke-width="1.2"/>
<ellipse cx="259.6" cy="417.00" rx="3.15" ry="3.55" fill="#000"/>
<ellipse cx="259.6" cy="424.52" rx="3.15" ry="3.55" fill="#000"/>
<ellipse cx="259.6" cy="432.04" rx="3.15" ry="3.55" fill="#000"/>
<ellipse cx="259.6" cy="439.56" rx="3.15" ry="3.55" fill="#000"/>
<ellipse cx="259.6" cy="447.08" rx="3.15" ry="3.55" fill="#000"/>
<ellipse cx="259.6" cy="454.60" rx="3.15" ry="3.55" fill="#000"/>
<ellipse cx="259.6" cy="462.12" rx="3.15" ry="3.55" fill="#000"/>
<ellipse cx="259.6" cy="469.64" rx="3.15" ry="3.55" fill="#000"/>
<ellipse cx="259.6" cy="477.16" rx="3.15" ry="3.55" fill="#000"/>
<ellipse cx="259.6" cy="484.68" rx="3.15" ry="3.55" fill="#000"/>
<ellipse cx="259.6" cy="492.20" rx="2.55" ry="2.95" fill="#fff" stroke="#000" stroke-width="1.2"/>
<ellipse cx="280.7" cy="417.00" rx="3.15" ry="3.55" fill="#000"/>
<ellipse cx="280.7" cy="424.52" rx="2.55" ry="2.95" fill="#fff" stroke="#000" stroke-width="1.2"/>
<ellipse cx="280.7" cy="432.04" rx="3.15" ry="3.55" fill="#000"/>
<ellipse cx="280.7" cy="439.56" rx="3.15" ry="3.55" fill="#000"/>
<ellipse cx="280.7" cy="447.08" rx="3.15" ry="3.55" fill="#000"/>
<ellipse cx="280.7" cy="454.60" rx="3.15" ry="3.55" fill="#000"/>
<ellipse cx="280.7" cy="462.12" rx="3.15" ry="3.55" fill="#000"/>
<ellipse cx="280.7" cy="469.64" rx="3.15" ry="3.55" fill="#000"/>
<ellipse cx="280.7" cy="477.16" rx="3.15" ry="3.55" fill="#000"/>
<ellipse cx="280.7" cy="484.68" rx="3.15" ry="3.55" fill="#000"/>
<ellipse cx="280.7" cy="492.20" rx="3.15" ry="3.55" fill="#000"/>
<text x="43.2" y="361.1" font-size="12" class="g">N1</text>
<text x="43.2" y="455.4" font-size="12" class="g">N2</text>
</svg>
</body></html>
